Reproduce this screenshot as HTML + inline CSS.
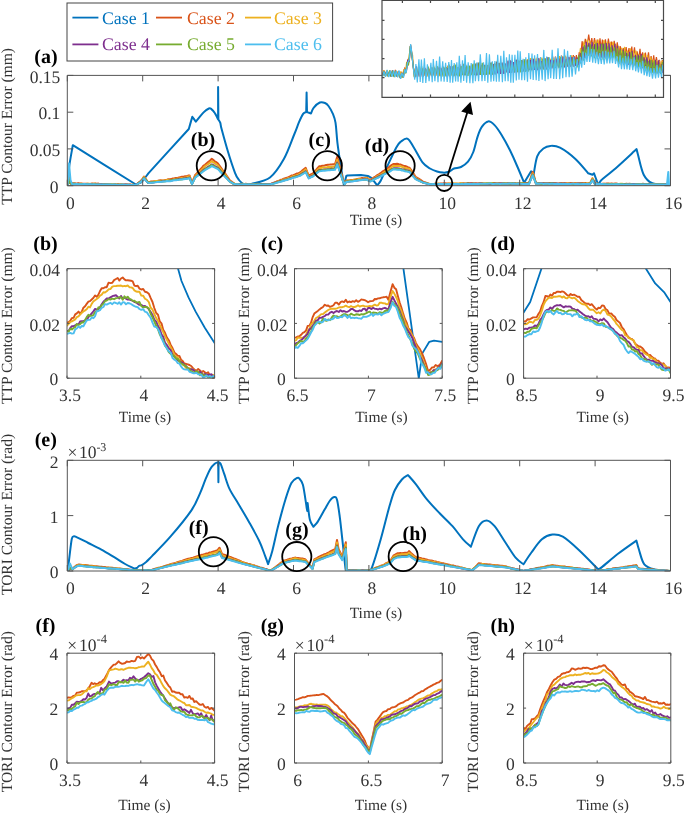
<!DOCTYPE html>
<html><head><meta charset="utf-8"><style>
html,body{margin:0;padding:0;background:#fff;}
svg{display:block;will-change:transform;}
text{font-family:"Liberation Serif",serif;text-rendering:geometricPrecision;}
</style></head><body>
<svg width="685" height="813" viewBox="0 0 685 813">
<defs><clipPath id="ca"><rect x="67.3" y="75.4" width="603.2" height="110.3"/></clipPath>
<clipPath id="cb"><rect x="67.0" y="268.7" width="147.6" height="109.5"/></clipPath>
<clipPath id="cc"><rect x="294.5" y="268.7" width="147.7" height="109.5"/></clipPath>
<clipPath id="cd"><rect x="523.6" y="268.7" width="146.9" height="109.5"/></clipPath>
<clipPath id="ce"><rect x="67.3" y="460.3" width="603.2" height="110.7"/></clipPath>
<clipPath id="cf"><rect x="67.0" y="653.2" width="147.6" height="109.8"/></clipPath>
<clipPath id="cg"><rect x="294.5" y="653.2" width="147.7" height="109.8"/></clipPath>
<clipPath id="ch"><rect x="523.6" y="653.2" width="147.2" height="109.8"/></clipPath>
<clipPath id="cin"><rect x="382" y="0.5" width="281.5" height="96.5"/></clipPath></defs>
<rect width="685" height="813" fill="#fff"/>
<path d="M67.8 185.0 C68.0 182.2 68.2 174.6 69.0 168.0 C69.8 161.4 72.2 149.0 72.8 145.2 C83.3 151.8 125.4 177.9 135.9 184.5 C136.9 184.1 140.8 182.4 141.8 182.0 C143.0 180.5 147.6 174.3 148.8 172.8 C155.5 165.5 182.1 136.3 188.8 129.0 C189.4 127.0 191.7 118.8 192.3 116.8 C192.9 117.6 195.2 120.8 195.8 121.6 C197.1 120.1 201.4 114.6 203.6 112.4 C205.8 110.2 207.7 109.1 208.9 108.5 C210.2 107.9 210.1 108.1 211.1 108.9 C212.1 109.7 213.8 111.5 215.0 113.3 C216.2 115.0 217.6 118.4 218.1 119.4 C218.1 114.0 218.1 92.4 218.1 87.0 C218.2 92.4 218.3 114.2 218.4 119.6 C218.7 120.1 219.8 121.3 220.3 122.9 C220.8 124.5 220.3 124.2 221.6 129.0 C222.9 133.8 225.8 144.5 228.0 151.8 C230.2 159.1 233.2 168.1 235.0 172.8 C236.8 177.5 237.6 178.1 239.0 180.0 C240.4 181.9 242.5 183.3 243.2 184.0 C244.6 184.0 250.0 184.0 251.4 184.0 C254.5 182.9 264.6 181.7 270.0 177.5 C275.4 173.3 279.9 166.1 284.0 158.8 C288.1 151.6 291.9 140.0 294.4 134.0 C296.9 128.0 297.4 126.0 298.8 122.7 C300.2 119.4 301.9 115.7 303.1 113.9 C304.3 112.1 305.7 112.4 306.2 112.1 C306.3 108.8 306.5 95.7 306.6 92.4 C306.7 95.7 306.9 108.8 307.0 112.1 C307.7 112.3 310.3 113.3 311.0 113.5 C311.4 112.5 312.1 109.6 313.6 107.8 C315.1 106.0 317.9 103.3 319.8 102.5 C321.7 101.7 323.6 102.4 325.0 103.0 C326.4 103.6 327.2 104.2 328.5 106.0 C329.8 107.8 331.7 111.1 332.9 113.9 C334.1 116.7 334.7 117.8 335.5 122.7 C336.3 127.6 336.7 136.7 337.5 143.4 C338.3 150.2 339.3 156.2 340.4 163.2 C341.5 170.2 343.3 181.7 343.9 185.4 C344.3 183.8 345.9 177.6 346.3 176.0 C346.5 175.9 347.2 175.6 347.4 175.5 C349.6 175.4 358.6 175.0 360.9 174.9 C362.1 175.1 366.7 175.8 367.9 176.0 C368.5 176.3 370.8 177.5 371.4 177.8 C372.4 179.1 376.2 184.1 377.2 185.4 C377.8 184.6 379.3 183.4 380.7 180.7 C382.1 178.0 383.2 174.9 385.8 169.4 C388.4 163.9 393.8 152.2 396.3 147.5 C398.8 142.8 399.1 142.9 401.0 141.5 C402.9 140.1 405.6 137.8 407.7 138.8 C409.8 139.8 411.3 143.6 413.8 147.5 C416.3 151.4 419.8 158.9 422.5 162.4 C425.2 165.9 427.6 167.0 430.0 168.5 C432.4 170.0 434.8 170.8 437.0 171.5 C439.2 172.2 441.0 172.5 443.0 172.6 C445.0 172.7 447.2 172.5 449.0 171.8 C450.8 171.1 452.0 169.3 454.0 168.5 C456.0 167.7 458.7 168.1 461.0 167.0 C463.3 165.9 465.9 164.2 468.0 161.7 C470.1 159.2 471.7 156.2 473.3 152.0 C474.9 147.8 476.2 140.5 477.7 136.3 C479.1 132.1 480.2 129.1 482.0 126.6 C483.8 124.1 486.1 121.7 488.2 121.4 C490.2 121.1 492.1 122.7 494.3 124.9 C496.5 127.1 498.7 130.3 501.3 134.5 C503.9 138.7 507.4 145.1 510.0 150.3 C512.6 155.6 514.8 160.6 517.1 166.0 C519.5 171.4 522.9 179.9 524.1 182.7 C525.3 180.8 529.9 173.2 531.1 171.3 C531.5 171.8 533.3 173.6 533.7 174.0 C534.3 171.1 535.6 160.7 537.2 156.4 C538.8 152.2 541.2 150.2 543.4 148.5 C545.6 146.8 547.6 146.0 550.4 145.9 C553.2 145.8 555.8 145.5 560.0 147.7 C564.2 149.9 570.7 154.7 575.4 159.0 C580.1 163.3 586.1 170.9 588.2 173.3 C588.9 173.5 591.8 174.5 592.5 174.7 C592.8 174.5 593.8 173.5 594.0 173.3 C594.7 175.2 597.5 182.8 598.2 184.7 C598.7 184.0 600.5 181.1 601.0 180.4 C603.8 178.0 612.1 171.4 618.0 166.2 C623.9 161.0 633.5 151.9 636.6 149.1 C636.8 150.1 636.8 150.5 638.0 154.8 C639.2 159.1 641.3 170.0 643.7 174.7 C646.1 179.4 648.2 181.4 652.3 183.2 C656.3 185.0 665.4 185.1 668.0 185.5" fill="none" stroke="#0072BD" stroke-width="2.00" stroke-linejoin="round" stroke-linecap="round" clip-path="url(#ca)"/>
<path d="M67.6 185.0 L68.5 176.0 L70.0 182.0 L72.0 184.0 L72.0 183.4 L73.6 183.4 L75.1 183.5 L76.7 183.7 L78.2 183.3 L79.8 183.6 L81.3 183.6 L82.9 183.8 L84.4 183.8 L86.0 183.7 L87.6 183.7 L89.1 183.9 L90.7 183.8 L92.2 183.5 L93.8 183.8 L95.3 183.6 L96.9 183.7 L98.4 183.6 L100.0 184.1 L101.5 184.1 L103.0 184.5 L104.5 184.1 L106.0 184.4 L107.5 184.4 L109.0 184.6 L110.5 184.4 L112.0 184.7 L113.5 184.5 L115.0 184.1 L116.5 184.4 L118.0 184.3 L119.5 184.5 L121.0 184.4 L122.5 184.6 L124.0 184.5 L125.5 184.4 L127.0 184.4 L128.5 184.7 L130.0 184.5 L131.5 184.8 L133.0 184.8 L134.5 184.9 L136.0 185.1 L137.7 183.5 L139.3 182.0 L141.0 180.7 L142.5 178.8 L144.0 176.5 L146.0 179.4 L148.0 182.3 L149.6 181.9 L151.1 181.6 L152.7 181.5 L154.3 181.2 L155.9 181.1 L157.4 180.9 L159.0 180.4 L160.6 180.3 L162.1 180.4 L163.7 180.4 L165.3 180.0 L166.9 179.7 L168.4 179.2 L170.0 179.3 L171.5 178.9 L173.0 178.5 L174.5 178.3 L176.0 177.9 L177.5 177.9 L179.0 177.5 L180.6 177.1 L182.1 176.8 L183.6 176.7 L185.1 176.3 L186.6 176.3 L188.1 175.6 L189.6 175.5 L192.0 183.1 L193.5 179.2 L195.0 175.3 L196.7 173.5 L198.3 171.6 L200.0 169.8 L201.7 168.0 L203.3 165.9 L205.0 164.7 L206.7 163.2 L208.4 161.8 L210.1 160.5 L211.8 158.8 L213.4 160.1 L214.9 161.5 L216.4 162.2 L218.0 163.6 L219.8 166.1 L221.6 168.6 L223.4 171.2 L225.1 173.4 L226.7 175.8 L228.3 178.1 L230.0 180.6 L231.7 181.7 L233.3 182.8 L235.0 184.3 L236.5 184.0 L238.0 184.3 L239.6 184.3 L241.1 184.5 L242.6 184.4 L244.1 184.2 L245.7 183.8 L247.2 184.0 L248.7 184.3 L250.2 184.3 L251.7 184.1 L253.3 184.3 L254.8 184.5 L256.3 184.1 L257.8 183.8 L259.3 183.9 L260.9 184.2 L262.4 184.0 L263.9 184.1 L265.4 184.1 L267.0 183.9 L268.5 184.2 L270.0 184.3 L271.5 183.7 L273.1 182.9 L274.6 182.4 L276.2 181.9 L277.7 180.9 L279.2 180.7 L280.8 179.8 L282.3 179.4 L283.8 178.8 L285.4 178.3 L286.9 177.8 L288.5 177.1 L290.0 176.5 L291.7 175.4 L293.3 175.2 L295.0 174.5 L296.7 173.6 L298.3 173.4 L300.0 172.5 L301.9 170.9 L303.8 169.4 L305.7 167.9 L307.2 171.8 L308.8 175.7 L310.9 174.3 L313.0 173.3 L314.6 171.7 L316.1 169.9 L317.7 167.9 L319.3 166.2 L321.1 166.0 L322.8 165.7 L324.6 165.5 L326.3 164.9 L328.0 164.7 L329.8 164.6 L331.5 164.4 L333.3 164.3 L335.0 164.2 L337.2 156.7 L339.4 165.0 L341.1 172.3 L342.9 179.8 L344.7 183.6 L346.4 180.6 L348.0 180.4 L349.5 180.3 L351.1 180.0 L352.6 179.9 L354.2 179.7 L355.8 179.5 L357.3 179.0 L358.9 178.7 L360.5 178.6 L362.0 178.0 L363.6 178.3 L365.1 177.9 L366.7 177.7 L368.4 178.8 L370.2 179.8 L371.9 178.9 L373.6 177.7 L375.4 176.5 L377.1 175.2 L378.8 174.4 L380.6 173.2 L382.3 171.7 L384.1 170.7 L385.8 169.6 L387.4 168.6 L388.9 167.2 L390.5 165.9 L392.0 164.8 L393.6 164.0 L395.4 163.9 L397.1 163.7 L398.9 164.2 L400.4 164.5 L401.9 165.1 L403.4 165.7 L404.9 166.0 L406.4 166.5 L407.9 167.1 L409.4 167.6 L410.9 169.5 L412.4 171.9 L414.0 174.2 L415.5 176.8 L417.2 177.8 L419.0 178.9 L420.8 180.1 L422.5 181.4 L424.0 181.9 L425.5 182.4 L427.0 183.2 L428.5 183.6 L430.0 184.0 L431.5 184.0 L433.0 184.1 L434.6 183.7 L436.1 183.7 L437.6 183.7 L439.1 183.8 L440.7 183.5 L442.2 183.6 L443.7 183.2 L445.2 183.3 L446.7 183.6 L448.3 183.6 L449.8 183.6 L451.3 183.5 L452.8 183.5 L454.3 183.7 L455.9 183.8 L457.4 183.8 L458.9 183.8 L460.4 183.5 L462.0 183.5 L463.5 183.3 L465.0 183.5 L466.5 183.7 L468.0 183.3 L469.6 183.3 L471.1 183.3 L472.6 183.2 L474.1 183.3 L475.7 183.2 L477.2 183.5 L478.7 183.4 L480.2 183.2 L481.7 183.0 L483.3 183.3 L484.8 183.4 L486.3 183.5 L487.8 183.5 L489.3 183.7 L490.9 183.2 L492.4 183.3 L493.9 183.0 L495.4 183.1 L497.0 183.2 L498.5 183.2 L500.0 183.4 L501.5 183.3 L503.1 183.3 L504.6 183.2 L506.1 183.3 L507.6 183.5 L509.2 183.6 L510.7 183.5 L512.2 183.2 L513.7 183.4 L515.3 183.1 L516.8 183.4 L518.3 183.1 L519.8 183.3 L521.4 183.1 L522.9 183.0 L524.4 183.3 L525.9 183.2 L527.5 183.3 L529.0 183.0 L530.9 177.6 L532.7 171.9 L534.4 177.4 L536.0 183.2 L537.5 183.0 L539.0 183.3 L540.5 183.1 L542.0 183.0 L543.5 183.0 L545.0 183.1 L546.5 183.2 L548.0 183.3 L549.5 183.1 L551.0 183.1 L552.5 183.2 L554.0 183.2 L555.5 183.2 L557.0 183.5 L558.5 183.7 L560.0 183.4 L561.5 183.3 L563.0 183.3 L564.5 183.3 L566.0 183.2 L567.5 183.2 L569.0 183.1 L570.5 183.1 L572.0 183.0 L573.5 183.4 L575.0 183.0 L576.5 183.4 L578.0 183.6 L579.5 183.5 L581.0 183.3 L582.5 183.1 L584.0 183.2 L585.5 183.0 L587.0 183.4 L588.5 183.3 L590.0 183.5 L592.5 178.3 L595.0 183.8 L596.5 184.1 L598.0 183.8 L599.5 184.0 L601.0 183.9 L602.5 183.7 L604.0 183.8 L605.5 183.8 L607.0 183.5 L608.5 183.5 L610.0 183.9 L611.5 183.4 L613.0 183.7 L614.5 183.6 L616.0 183.4 L617.5 183.8 L619.0 184.0 L620.5 183.9 L622.0 184.2 L623.5 183.9 L625.0 183.9 L626.5 183.8 L628.0 184.0 L629.5 183.8 L631.0 183.9 L632.5 183.9 L634.0 183.9 L635.5 184.1 L637.0 184.2 L638.5 184.1 L640.0 184.0 L641.5 184.2 L643.0 183.7 L644.5 184.1 L646.0 184.2 L647.5 183.9 L649.0 183.8 L650.5 184.0 L652.0 184.0 L653.5 184.0 L655.0 184.2 L656.5 184.0 L658.0 184.1 L659.5 184.1 L661.0 184.3 L662.5 184.1 L664.0 184.1 L665.5 184.0 L667.0 184.4" fill="none" stroke="#D95319" stroke-width="2.00" stroke-linejoin="round" stroke-linecap="round" clip-path="url(#ca)"/>
<path d="M67.6 185.0 L68.5 178.0 L70.0 183.0 L72.0 184.0 L72.0 184.0 L73.6 183.4 L75.1 183.9 L76.7 183.8 L78.2 183.9 L79.8 183.8 L81.3 183.8 L82.9 184.2 L84.4 184.2 L86.0 184.0 L87.6 183.7 L89.1 183.8 L90.7 184.1 L92.2 184.0 L93.8 183.8 L95.3 183.8 L96.9 184.2 L98.4 184.1 L100.0 184.5 L101.5 184.6 L103.0 184.6 L104.5 184.6 L106.0 184.5 L107.5 184.7 L109.0 184.5 L110.5 184.6 L112.0 184.6 L113.5 184.6 L115.0 184.6 L116.5 184.8 L118.0 184.7 L119.5 184.5 L121.0 184.6 L122.5 184.8 L124.0 184.9 L125.5 185.1 L127.0 184.9 L128.5 185.0 L130.0 184.7 L131.5 185.0 L133.0 184.7 L134.5 185.1 L136.0 185.0 L137.7 183.8 L139.3 182.6 L141.0 181.3 L142.5 179.0 L144.0 177.0 L146.0 179.8 L148.0 182.4 L149.6 181.9 L151.1 181.8 L152.7 181.7 L154.3 181.4 L155.9 181.0 L157.4 181.1 L159.0 181.0 L160.6 180.7 L162.1 180.8 L163.7 180.5 L165.3 180.5 L166.9 180.1 L168.4 179.8 L170.0 180.0 L171.5 179.9 L173.0 179.8 L174.5 179.2 L176.0 179.0 L177.5 178.6 L179.0 178.4 L180.6 178.3 L182.1 177.9 L183.6 177.9 L185.1 177.6 L186.6 177.1 L188.1 176.5 L189.6 176.2 L192.0 183.3 L193.5 179.9 L195.0 176.5 L196.7 174.6 L198.3 172.9 L200.0 171.5 L201.7 169.8 L203.3 168.2 L205.0 166.2 L206.7 165.0 L208.4 164.0 L210.1 162.6 L211.8 161.3 L213.4 162.4 L214.9 163.4 L216.4 164.3 L218.0 165.5 L219.8 167.8 L221.6 170.1 L223.4 172.6 L225.1 174.5 L226.7 176.9 L228.3 179.2 L230.0 181.2 L231.7 182.4 L233.3 183.2 L235.0 184.0 L236.5 184.3 L238.0 184.0 L239.6 184.1 L241.1 184.0 L242.6 183.8 L244.1 184.1 L245.7 184.0 L247.2 183.9 L248.7 184.0 L250.2 184.2 L251.7 183.9 L253.3 184.1 L254.8 184.3 L256.3 184.1 L257.8 184.4 L259.3 184.4 L260.9 184.2 L262.4 184.3 L263.9 184.3 L265.4 184.6 L267.0 184.7 L268.5 184.3 L270.0 184.2 L271.5 183.8 L273.1 183.4 L274.6 182.8 L276.2 182.4 L277.7 181.5 L279.2 180.7 L280.8 180.8 L282.3 180.1 L283.8 179.5 L285.4 179.2 L286.9 178.6 L288.5 177.9 L290.0 177.7 L291.7 176.8 L293.3 176.2 L295.0 175.8 L296.7 175.1 L298.3 174.7 L300.0 173.7 L301.9 172.2 L303.8 171.0 L305.7 169.3 L307.2 173.0 L308.8 177.0 L310.9 175.8 L313.0 174.7 L314.6 173.2 L316.1 171.7 L317.7 169.7 L319.3 168.1 L321.1 168.0 L322.8 167.5 L324.6 167.5 L326.3 167.4 L328.0 167.0 L329.8 166.9 L331.5 167.0 L333.3 166.5 L335.0 166.3 L337.2 159.9 L339.4 167.2 L341.1 173.4 L342.9 179.7 L344.7 183.6 L346.4 181.1 L348.0 180.4 L349.5 180.6 L351.1 180.5 L352.6 180.2 L354.2 179.8 L355.8 179.5 L357.3 179.4 L358.9 179.1 L360.5 179.0 L362.0 179.1 L363.6 178.8 L365.1 178.4 L366.7 178.1 L368.4 179.2 L370.2 180.6 L371.9 179.6 L373.6 178.7 L375.4 177.5 L377.1 176.4 L378.8 175.5 L380.6 174.6 L382.3 173.6 L384.1 172.4 L385.8 171.3 L387.4 170.3 L388.9 169.3 L390.5 168.2 L392.0 166.8 L393.6 165.7 L395.4 166.0 L397.1 166.0 L398.9 166.1 L400.4 166.3 L401.9 166.8 L403.4 167.3 L404.9 168.1 L406.4 168.3 L407.9 168.8 L409.4 168.8 L410.9 171.0 L412.4 173.0 L414.0 175.3 L415.5 177.7 L417.2 178.8 L419.0 179.8 L420.8 180.9 L422.5 182.1 L424.0 182.5 L425.5 183.1 L427.0 183.6 L428.5 183.7 L430.0 184.1 L431.5 183.9 L433.0 184.1 L434.6 184.2 L436.1 184.0 L437.6 183.6 L439.1 183.7 L440.7 184.1 L442.2 184.0 L443.7 183.9 L445.2 184.0 L446.7 183.9 L448.3 183.6 L449.8 183.8 L451.3 183.6 L452.8 183.6 L454.3 183.5 L455.9 183.4 L457.4 183.6 L458.9 183.7 L460.4 183.3 L462.0 183.7 L463.5 183.7 L465.0 183.9 L466.5 183.7 L468.0 183.7 L469.6 183.9 L471.1 183.8 L472.6 183.7 L474.1 183.7 L475.7 183.8 L477.2 183.9 L478.7 183.7 L480.2 183.5 L481.7 183.6 L483.3 183.4 L484.8 183.6 L486.3 183.2 L487.8 183.3 L489.3 183.2 L490.9 183.1 L492.4 183.2 L493.9 183.7 L495.4 183.5 L497.0 183.2 L498.5 183.2 L500.0 183.2 L501.5 183.4 L503.1 183.4 L504.6 183.6 L506.1 183.3 L507.6 183.0 L509.2 183.0 L510.7 182.9 L512.2 183.1 L513.7 183.5 L515.3 183.5 L516.8 183.5 L518.3 183.5 L519.8 183.3 L521.4 183.3 L522.9 183.3 L524.4 183.4 L525.9 183.5 L527.5 183.4 L529.0 183.7 L530.9 178.4 L532.7 173.4 L534.4 178.2 L536.0 183.0 L537.5 183.3 L539.0 183.5 L540.5 183.5 L542.0 183.4 L543.5 183.6 L545.0 183.3 L546.5 183.2 L548.0 183.5 L549.5 183.5 L551.0 183.7 L552.5 183.4 L554.0 183.5 L555.5 183.4 L557.0 183.7 L558.5 183.5 L560.0 183.6 L561.5 183.5 L563.0 183.6 L564.5 183.7 L566.0 183.6 L567.5 183.5 L569.0 183.6 L570.5 183.8 L572.0 183.8 L573.5 183.6 L575.0 183.5 L576.5 183.5 L578.0 183.4 L579.5 183.4 L581.0 183.4 L582.5 183.5 L584.0 183.7 L585.5 183.9 L587.0 183.6 L588.5 183.7 L590.0 183.6 L592.5 178.5 L595.0 183.6 L596.5 183.8 L598.0 183.8 L599.5 183.9 L601.0 183.9 L602.5 183.9 L604.0 183.7 L605.5 184.1 L607.0 184.0 L608.5 184.3 L610.0 183.8 L611.5 184.3 L613.0 184.0 L614.5 184.2 L616.0 184.2 L617.5 183.9 L619.0 183.9 L620.5 183.8 L622.0 183.8 L623.5 184.1 L625.0 184.1 L626.5 183.9 L628.0 184.2 L629.5 184.0 L631.0 183.9 L632.5 184.2 L634.0 184.0 L635.5 184.2 L637.0 184.3 L638.5 184.4 L640.0 184.0 L641.5 184.0 L643.0 184.0 L644.5 184.2 L646.0 184.4 L647.5 184.1 L649.0 184.0 L650.5 183.9 L652.0 184.1 L653.5 184.3 L655.0 184.1 L656.5 184.4 L658.0 184.3 L659.5 184.3 L661.0 184.4 L662.5 184.5 L664.0 184.5 L665.5 184.6 L667.0 184.3" fill="none" stroke="#EDB120" stroke-width="2.00" stroke-linejoin="round" stroke-linecap="round" clip-path="url(#ca)"/>
<path d="M67.6 185.0 L68.5 180.0 L70.0 183.0 L72.0 184.0 L72.0 183.8 L73.6 183.8 L75.1 183.8 L76.7 183.9 L78.2 183.7 L79.8 184.1 L81.3 184.2 L82.9 184.1 L84.4 184.3 L86.0 184.3 L87.6 184.2 L89.1 184.4 L90.7 184.1 L92.2 184.4 L93.8 184.6 L95.3 184.6 L96.9 184.5 L98.4 184.5 L100.0 184.4 L101.5 184.3 L103.0 184.6 L104.5 184.5 L106.0 184.5 L107.5 184.5 L109.0 184.7 L110.5 184.8 L112.0 184.9 L113.5 184.7 L115.0 185.0 L116.5 185.0 L118.0 184.8 L119.5 185.0 L121.0 184.7 L122.5 185.1 L124.0 184.8 L125.5 184.6 L127.0 184.8 L128.5 184.8 L130.0 184.8 L131.5 185.0 L133.0 185.2 L134.5 185.2 L136.0 184.8 L137.7 183.8 L139.3 182.7 L141.0 181.6 L142.5 179.8 L144.0 178.0 L146.0 180.4 L148.0 182.8 L149.6 182.7 L151.1 182.6 L152.7 182.5 L154.3 182.3 L155.9 181.9 L157.4 182.0 L159.0 181.7 L160.6 181.6 L162.1 181.3 L163.7 181.1 L165.3 181.1 L166.9 181.0 L168.4 181.0 L170.0 180.4 L171.5 180.5 L173.0 180.1 L174.5 179.9 L176.0 179.6 L177.5 179.4 L179.0 179.1 L180.6 178.9 L182.1 178.9 L183.6 178.5 L185.1 178.4 L186.6 178.1 L188.1 177.9 L189.6 177.6 L192.0 183.9 L193.5 180.7 L195.0 177.5 L196.7 176.1 L198.3 174.4 L200.0 173.0 L201.7 171.8 L203.3 170.1 L205.0 168.9 L206.7 167.8 L208.4 166.5 L210.1 165.5 L211.8 164.4 L213.4 165.2 L214.9 166.1 L216.4 166.9 L218.0 167.9 L219.8 170.0 L221.6 172.1 L223.4 174.4 L225.1 176.2 L226.7 177.9 L228.3 179.6 L230.0 181.6 L231.7 182.6 L233.3 183.8 L235.0 184.8 L236.5 184.7 L238.0 184.5 L239.6 184.2 L241.1 184.4 L242.6 184.5 L244.1 184.4 L245.7 184.4 L247.2 184.4 L248.7 184.2 L250.2 184.5 L251.7 184.3 L253.3 184.6 L254.8 184.4 L256.3 184.6 L257.8 184.3 L259.3 184.3 L260.9 184.3 L262.4 184.3 L263.9 184.2 L265.4 184.1 L267.0 184.5 L268.5 184.3 L270.0 184.2 L271.5 183.8 L273.1 183.4 L274.6 182.8 L276.2 182.4 L277.7 182.0 L279.2 181.4 L280.8 181.1 L282.3 180.7 L283.8 180.4 L285.4 179.8 L286.9 179.5 L288.5 179.0 L290.0 178.4 L291.7 177.9 L293.3 177.1 L295.0 176.7 L296.7 176.2 L298.3 175.9 L300.0 175.0 L301.9 173.7 L303.8 172.6 L305.7 171.4 L307.2 174.7 L308.8 177.8 L310.9 176.5 L313.0 175.6 L314.6 174.1 L316.1 172.9 L317.7 171.4 L319.3 169.9 L321.1 169.9 L322.8 169.8 L324.6 169.5 L326.3 169.5 L328.0 169.2 L329.8 169.3 L331.5 168.7 L333.3 168.8 L335.0 168.3 L337.2 162.6 L339.4 169.3 L341.1 174.9 L342.9 180.5 L344.7 183.7 L346.4 181.6 L348.0 181.4 L349.5 181.4 L351.1 181.2 L352.6 181.0 L354.2 180.7 L355.8 180.5 L357.3 180.4 L358.9 180.2 L360.5 179.7 L362.0 179.6 L363.6 179.3 L365.1 179.4 L366.7 179.1 L368.4 180.2 L370.2 181.1 L371.9 180.0 L373.6 179.2 L375.4 178.2 L377.1 177.4 L378.8 176.5 L380.6 175.6 L382.3 174.7 L384.1 173.9 L385.8 172.9 L387.4 172.0 L388.9 171.2 L390.5 170.0 L392.0 169.1 L393.6 168.3 L395.4 168.3 L397.1 168.3 L398.9 168.5 L400.4 169.0 L401.9 169.3 L403.4 169.4 L404.9 169.8 L406.4 170.2 L407.9 170.4 L409.4 170.9 L410.9 172.5 L412.4 174.5 L414.0 176.4 L415.5 178.5 L417.2 179.3 L419.0 180.3 L420.8 181.2 L422.5 182.2 L424.0 182.8 L425.5 183.3 L427.0 183.5 L428.5 184.0 L430.0 184.2 L431.5 184.4 L433.0 184.2 L434.6 184.2 L436.1 184.3 L437.6 184.1 L439.1 184.3 L440.7 184.2 L442.2 184.0 L443.7 184.2 L445.2 184.2 L446.7 184.1 L448.3 184.1 L449.8 183.9 L451.3 183.9 L452.8 184.0 L454.3 184.0 L455.9 183.9 L457.4 184.0 L458.9 184.0 L460.4 184.1 L462.0 183.9 L463.5 184.0 L465.0 184.0 L466.5 183.7 L468.0 183.5 L469.6 183.9 L471.1 183.6 L472.6 183.8 L474.1 184.0 L475.7 183.8 L477.2 183.7 L478.7 183.8 L480.2 183.6 L481.7 183.7 L483.3 184.0 L484.8 184.0 L486.3 183.9 L487.8 184.0 L489.3 183.8 L490.9 183.9 L492.4 183.9 L493.9 183.7 L495.4 183.7 L497.0 183.7 L498.5 183.6 L500.0 183.4 L501.5 183.5 L503.1 183.8 L504.6 183.7 L506.1 183.9 L507.6 183.6 L509.2 183.4 L510.7 183.7 L512.2 183.7 L513.7 183.6 L515.3 183.8 L516.8 183.9 L518.3 183.8 L519.8 184.0 L521.4 183.9 L522.9 183.9 L524.4 183.5 L525.9 183.4 L527.5 183.4 L529.0 183.6 L530.9 179.1 L532.7 174.6 L534.4 179.2 L536.0 183.7 L537.5 183.6 L539.0 183.6 L540.5 183.6 L542.0 183.4 L543.5 183.6 L545.0 183.6 L546.5 183.5 L548.0 183.5 L549.5 183.4 L551.0 183.4 L552.5 183.3 L554.0 183.5 L555.5 183.5 L557.0 183.6 L558.5 183.7 L560.0 183.4 L561.5 183.5 L563.0 183.7 L564.5 183.5 L566.0 183.7 L567.5 183.9 L569.0 183.9 L570.5 183.8 L572.0 184.0 L573.5 183.7 L575.0 184.0 L576.5 183.8 L578.0 183.6 L579.5 183.5 L581.0 183.6 L582.5 183.7 L584.0 184.0 L585.5 184.2 L587.0 184.0 L588.5 184.0 L590.0 184.0 L592.5 179.7 L595.0 183.9 L596.5 184.0 L598.0 184.1 L599.5 184.3 L601.0 184.3 L602.5 184.4 L604.0 184.2 L605.5 184.3 L607.0 184.1 L608.5 184.3 L610.0 184.3 L611.5 184.2 L613.0 184.2 L614.5 184.3 L616.0 184.2 L617.5 184.3 L619.0 184.4 L620.5 184.4 L622.0 184.5 L623.5 184.3 L625.0 184.1 L626.5 184.3 L628.0 184.3 L629.5 184.2 L631.0 184.0 L632.5 184.1 L634.0 184.1 L635.5 184.3 L637.0 184.2 L638.5 184.3 L640.0 184.4 L641.5 184.3 L643.0 184.1 L644.5 184.3 L646.0 184.4 L647.5 184.3 L649.0 184.1 L650.5 184.2 L652.0 184.3 L653.5 184.6 L655.0 184.4 L656.5 184.3 L658.0 184.6 L659.5 184.6 L661.0 184.6 L662.5 184.5 L664.0 184.5 L665.5 184.4 L667.0 184.5" fill="none" stroke="#7E2F8E" stroke-width="2.00" stroke-linejoin="round" stroke-linecap="round" clip-path="url(#ca)"/>
<path d="M67.6 185.0 L68.5 179.0 L70.0 183.0 L72.0 184.0 L72.0 183.7 L73.6 183.8 L75.1 183.7 L76.7 184.1 L78.2 184.1 L79.8 184.1 L81.3 183.9 L82.9 184.1 L84.4 184.3 L86.0 184.2 L87.6 184.2 L89.1 184.4 L90.7 184.3 L92.2 184.5 L93.8 184.3 L95.3 184.3 L96.9 184.7 L98.4 184.5 L100.0 184.7 L101.5 184.8 L103.0 184.6 L104.5 184.6 L106.0 184.4 L107.5 184.5 L109.0 184.5 L110.5 184.5 L112.0 184.5 L113.5 184.7 L115.0 184.6 L116.5 184.7 L118.0 184.8 L119.5 184.7 L121.0 184.7 L122.5 184.6 L124.0 184.9 L125.5 184.7 L127.0 184.7 L128.5 184.7 L130.0 185.0 L131.5 185.1 L133.0 184.7 L134.5 185.1 L136.0 185.1 L137.7 184.1 L139.3 182.7 L141.0 181.7 L142.5 180.1 L144.0 178.0 L146.0 180.2 L148.0 182.8 L149.6 182.5 L151.1 182.7 L152.7 182.3 L154.3 182.0 L155.9 182.0 L157.4 181.8 L159.0 181.7 L160.6 181.4 L162.1 181.4 L163.7 181.5 L165.3 181.2 L166.9 180.9 L168.4 180.8 L170.0 180.8 L171.5 180.3 L173.0 180.1 L174.5 180.0 L176.0 179.5 L177.5 179.7 L179.0 179.6 L180.6 179.5 L182.1 179.3 L183.6 178.8 L185.1 178.7 L186.6 178.6 L188.1 178.2 L189.6 178.1 L192.0 184.1 L193.5 181.0 L195.0 177.8 L196.7 176.3 L198.3 175.2 L200.0 173.5 L201.7 172.2 L203.3 171.0 L205.0 169.2 L206.7 168.3 L208.4 167.4 L210.1 165.9 L211.8 165.0 L213.4 165.9 L214.9 166.9 L216.4 167.7 L218.0 168.4 L219.8 170.5 L221.6 172.7 L223.4 174.6 L225.1 176.1 L226.7 178.1 L228.3 180.1 L230.0 181.7 L231.7 182.8 L233.3 183.5 L235.0 184.4 L236.5 184.4 L238.0 184.5 L239.6 184.4 L241.1 184.5 L242.6 184.4 L244.1 184.6 L245.7 184.6 L247.2 184.4 L248.7 184.6 L250.2 184.6 L251.7 184.5 L253.3 184.4 L254.8 184.2 L256.3 184.3 L257.8 184.5 L259.3 184.3 L260.9 184.4 L262.4 184.5 L263.9 184.3 L265.4 184.4 L267.0 184.4 L268.5 184.6 L270.0 184.6 L271.5 184.1 L273.1 183.7 L274.6 183.1 L276.2 182.8 L277.7 182.1 L279.2 181.8 L280.8 181.3 L282.3 180.7 L283.8 180.4 L285.4 180.1 L286.9 179.6 L288.5 179.1 L290.0 178.8 L291.7 178.1 L293.3 177.4 L295.0 176.6 L296.7 176.5 L298.3 176.1 L300.0 175.4 L301.9 174.2 L303.8 173.1 L305.7 171.9 L307.2 174.8 L308.8 178.1 L310.9 177.2 L313.0 176.1 L314.6 174.6 L316.1 173.4 L317.7 171.8 L319.3 170.4 L321.1 170.5 L322.8 170.1 L324.6 170.0 L326.3 169.7 L328.0 169.5 L329.8 169.5 L331.5 169.4 L333.3 169.1 L335.0 169.0 L337.2 163.5 L339.4 169.8 L341.1 175.1 L342.9 180.7 L344.7 184.0 L346.4 181.5 L348.0 181.5 L349.5 181.2 L351.1 181.1 L352.6 181.0 L354.2 180.8 L355.8 180.4 L357.3 180.2 L358.9 180.1 L360.5 179.9 L362.0 179.9 L363.6 179.8 L365.1 179.7 L366.7 179.5 L368.4 180.5 L370.2 181.3 L371.9 180.6 L373.6 179.4 L375.4 178.7 L377.1 177.8 L378.8 177.0 L380.6 176.0 L382.3 175.0 L384.1 174.0 L385.8 172.8 L387.4 172.3 L388.9 171.2 L390.5 170.4 L392.0 169.4 L393.6 168.7 L395.4 169.0 L397.1 169.0 L398.9 169.2 L400.4 169.3 L401.9 169.7 L403.4 170.2 L404.9 170.3 L406.4 170.7 L407.9 171.2 L409.4 171.5 L410.9 173.2 L412.4 175.3 L414.0 177.2 L415.5 178.9 L417.2 179.7 L419.0 180.7 L420.8 181.5 L422.5 182.4 L424.0 182.7 L425.5 182.9 L427.0 183.6 L428.5 183.8 L430.0 184.6 L431.5 184.2 L433.0 184.5 L434.6 184.2 L436.1 184.2 L437.6 184.2 L439.1 184.3 L440.7 184.3 L442.2 184.1 L443.7 184.0 L445.2 184.2 L446.7 184.3 L448.3 184.1 L449.8 184.2 L451.3 184.0 L452.8 184.0 L454.3 184.0 L455.9 184.1 L457.4 184.2 L458.9 184.1 L460.4 183.9 L462.0 183.7 L463.5 183.9 L465.0 183.8 L466.5 183.8 L468.0 183.5 L469.6 183.8 L471.1 183.9 L472.6 183.7 L474.1 183.8 L475.7 183.9 L477.2 184.0 L478.7 183.8 L480.2 183.7 L481.7 183.9 L483.3 183.8 L484.8 183.7 L486.3 183.6 L487.8 183.4 L489.3 183.4 L490.9 183.6 L492.4 183.6 L493.9 183.8 L495.4 183.8 L497.0 183.9 L498.5 183.8 L500.0 184.1 L501.5 184.0 L503.1 183.6 L504.6 183.6 L506.1 183.7 L507.6 183.7 L509.2 183.8 L510.7 183.5 L512.2 183.5 L513.7 183.5 L515.3 183.7 L516.8 183.7 L518.3 183.7 L519.8 183.9 L521.4 183.5 L522.9 183.6 L524.4 183.8 L525.9 183.6 L527.5 183.7 L529.0 183.5 L530.9 179.2 L532.7 174.9 L534.4 179.0 L536.0 183.8 L537.5 183.6 L539.0 183.6 L540.5 183.8 L542.0 184.0 L543.5 183.8 L545.0 183.8 L546.5 183.7 L548.0 183.9 L549.5 183.5 L551.0 183.5 L552.5 183.6 L554.0 183.7 L555.5 183.8 L557.0 183.9 L558.5 183.9 L560.0 183.8 L561.5 183.8 L563.0 183.9 L564.5 183.8 L566.0 184.0 L567.5 184.0 L569.0 184.1 L570.5 183.9 L572.0 183.9 L573.5 184.2 L575.0 184.0 L576.5 183.8 L578.0 184.0 L579.5 183.8 L581.0 183.8 L582.5 184.1 L584.0 183.8 L585.5 183.7 L587.0 184.0 L588.5 183.7 L590.0 183.7 L592.5 179.7 L595.0 184.4 L596.5 184.2 L598.0 184.5 L599.5 184.4 L601.0 184.1 L602.5 184.2 L604.0 184.1 L605.5 184.2 L607.0 184.2 L608.5 184.1 L610.0 184.1 L611.5 184.2 L613.0 184.0 L614.5 184.1 L616.0 184.0 L617.5 184.1 L619.0 184.0 L620.5 184.1 L622.0 184.1 L623.5 184.3 L625.0 184.2 L626.5 184.3 L628.0 184.4 L629.5 184.4 L631.0 184.3 L632.5 184.6 L634.0 184.7 L635.5 184.4 L637.0 184.3 L638.5 184.2 L640.0 184.2 L641.5 184.2 L643.0 184.3 L644.5 184.6 L646.0 184.5 L647.5 184.2 L649.0 184.4 L650.5 184.4 L652.0 184.3 L653.5 184.3 L655.0 184.4 L656.5 184.3 L658.0 184.5 L659.5 184.2 L661.0 184.4 L662.5 184.2 L664.0 184.6 L665.5 184.7 L667.0 184.8" fill="none" stroke="#77AC30" stroke-width="2.00" stroke-linejoin="round" stroke-linecap="round" clip-path="url(#ca)"/>
<path d="M67.6 185.0 L69.0 163.4 L70.5 180.0 L72.0 184.0 L72.0 184.1 L73.6 184.2 L75.1 184.3 L76.7 184.0 L78.2 184.2 L79.8 184.2 L81.3 184.2 L82.9 184.3 L84.4 184.1 L86.0 184.2 L87.6 184.2 L89.1 184.3 L90.7 184.3 L92.2 184.4 L93.8 184.2 L95.3 184.5 L96.9 184.5 L98.4 184.5 L100.0 184.5 L101.5 184.6 L103.0 184.6 L104.5 184.5 L106.0 184.4 L107.5 184.5 L109.0 184.5 L110.5 184.4 L112.0 184.7 L113.5 184.6 L115.0 184.6 L116.5 184.8 L118.0 185.0 L119.5 184.8 L121.0 184.7 L122.5 184.5 L124.0 184.7 L125.5 184.7 L127.0 185.0 L128.5 184.8 L130.0 185.0 L131.5 184.9 L133.0 185.0 L134.5 185.0 L136.0 184.8 L137.7 184.0 L139.3 183.0 L141.0 181.9 L142.5 180.2 L144.0 178.4 L146.0 180.9 L148.0 182.8 L149.6 182.9 L151.1 182.7 L152.7 182.7 L154.3 182.4 L155.9 182.3 L157.4 181.9 L159.0 181.9 L160.6 182.0 L162.1 181.8 L163.7 181.5 L165.3 181.4 L166.9 181.1 L168.4 181.3 L170.0 181.2 L171.5 180.9 L173.0 180.6 L174.5 180.3 L176.0 180.2 L177.5 180.1 L179.0 179.8 L180.6 179.4 L182.1 179.4 L183.6 179.2 L185.1 179.0 L186.6 178.9 L188.1 178.6 L189.6 178.2 L192.0 184.1 L193.5 181.1 L195.0 178.0 L196.7 176.6 L198.3 175.2 L200.0 174.0 L201.7 172.7 L203.3 171.3 L205.0 170.1 L206.7 169.1 L208.4 168.1 L210.1 167.3 L211.8 166.1 L213.4 166.8 L214.9 167.6 L216.4 168.4 L218.0 169.1 L219.8 171.2 L221.6 173.1 L223.4 175.2 L225.1 176.9 L226.7 178.4 L228.3 180.2 L230.0 181.9 L231.7 182.7 L233.3 183.6 L235.0 184.3 L236.5 184.3 L238.0 184.2 L239.6 184.4 L241.1 184.5 L242.6 184.5 L244.1 184.3 L245.7 184.3 L247.2 184.4 L248.7 184.2 L250.2 184.4 L251.7 184.4 L253.3 184.6 L254.8 184.6 L256.3 184.7 L257.8 184.5 L259.3 184.6 L260.9 184.8 L262.4 184.6 L263.9 184.6 L265.4 184.5 L267.0 184.5 L268.5 184.6 L270.0 184.5 L271.5 184.0 L273.1 183.7 L274.6 183.5 L276.2 182.9 L277.7 182.6 L279.2 182.0 L280.8 181.7 L282.3 181.2 L283.8 180.7 L285.4 180.2 L286.9 180.0 L288.5 179.3 L290.0 179.0 L291.7 178.4 L293.3 177.8 L295.0 177.5 L296.7 176.9 L298.3 176.4 L300.0 175.8 L301.9 174.7 L303.8 173.5 L305.7 172.3 L307.2 175.3 L308.8 178.5 L310.9 177.3 L313.0 176.5 L314.6 175.3 L316.1 173.8 L317.7 172.5 L319.3 171.2 L321.1 171.1 L322.8 170.8 L324.6 170.7 L326.3 170.6 L328.0 170.3 L329.8 170.2 L331.5 170.1 L333.3 169.9 L335.0 169.8 L337.2 164.4 L339.4 170.4 L341.1 175.7 L342.9 181.0 L344.7 184.1 L346.4 181.8 L348.0 181.9 L349.5 181.5 L351.1 181.5 L352.6 181.4 L354.2 181.1 L355.8 181.0 L357.3 180.6 L358.9 180.3 L360.5 180.2 L362.0 180.0 L363.6 179.7 L365.1 179.7 L366.7 179.6 L368.4 180.5 L370.2 181.5 L371.9 180.8 L373.6 179.8 L375.4 178.9 L377.1 178.2 L378.8 177.3 L380.6 176.4 L382.3 175.5 L384.1 174.5 L385.8 173.7 L387.4 172.9 L388.9 172.1 L390.5 171.1 L392.0 170.0 L393.6 169.3 L395.4 169.6 L397.1 169.7 L398.9 169.7 L400.4 169.8 L401.9 170.5 L403.4 170.6 L404.9 171.2 L406.4 171.4 L407.9 171.8 L409.4 172.0 L410.9 173.7 L412.4 175.4 L414.0 177.4 L415.5 179.1 L417.2 180.1 L419.0 180.9 L420.8 181.7 L422.5 182.4 L424.0 182.7 L425.5 183.3 L427.0 183.6 L428.5 184.1 L430.0 184.3 L431.5 184.2 L433.0 184.1 L434.6 184.2 L436.1 184.2 L437.6 184.2 L439.1 184.1 L440.7 184.1 L442.2 184.1 L443.7 184.1 L445.2 184.2 L446.7 184.2 L448.3 184.1 L449.8 184.1 L451.3 184.1 L452.8 183.9 L454.3 183.9 L455.9 184.1 L457.4 184.0 L458.9 184.0 L460.4 184.2 L462.0 183.9 L463.5 184.2 L465.0 184.1 L466.5 184.1 L468.0 184.1 L469.6 183.9 L471.1 184.1 L472.6 184.0 L474.1 183.8 L475.7 184.0 L477.2 184.0 L478.7 183.9 L480.2 183.8 L481.7 183.8 L483.3 183.7 L484.8 183.8 L486.3 183.7 L487.8 183.7 L489.3 183.6 L490.9 183.6 L492.4 183.9 L493.9 183.9 L495.4 183.8 L497.0 183.8 L498.5 183.8 L500.0 183.9 L501.5 183.8 L503.1 183.8 L504.6 183.7 L506.1 183.7 L507.6 183.8 L509.2 183.6 L510.7 183.6 L512.2 183.7 L513.7 183.6 L515.3 183.7 L516.8 183.7 L518.3 183.6 L519.8 183.7 L521.4 183.8 L522.9 184.0 L524.4 184.0 L525.9 183.9 L527.5 184.0 L529.0 184.0 L530.9 179.7 L532.7 175.4 L534.4 179.4 L536.0 183.7 L537.5 183.6 L539.0 183.8 L540.5 183.6 L542.0 183.6 L543.5 183.9 L545.0 183.8 L546.5 183.8 L548.0 183.7 L549.5 183.9 L551.0 183.8 L552.5 183.8 L554.0 183.9 L555.5 184.1 L557.0 183.8 L558.5 184.0 L560.0 183.9 L561.5 184.1 L563.0 184.1 L564.5 183.9 L566.0 184.0 L567.5 184.0 L569.0 183.8 L570.5 183.9 L572.0 183.8 L573.5 183.8 L575.0 183.9 L576.5 183.9 L578.0 183.9 L579.5 184.2 L581.0 184.2 L582.5 184.0 L584.0 184.1 L585.5 183.9 L587.0 183.9 L588.5 184.0 L590.0 184.1 L592.5 180.2 L595.0 184.4 L596.5 184.1 L598.0 184.3 L599.5 184.1 L601.0 184.0 L602.5 184.1 L604.0 184.2 L605.5 184.3 L607.0 184.4 L608.5 184.4 L610.0 184.4 L611.5 184.3 L613.0 184.4 L614.5 184.2 L616.0 184.2 L617.5 184.3 L619.0 184.3 L620.5 184.4 L622.0 184.4 L623.5 184.5 L625.0 184.7 L626.5 184.6 L628.0 184.6 L629.5 184.4 L631.0 184.5 L632.5 184.6 L634.0 184.4 L635.5 184.4 L637.0 184.6 L638.5 184.6 L640.0 184.4 L641.5 184.6 L643.0 184.5 L644.5 184.6 L646.0 184.5 L647.5 184.6 L649.0 184.5 L650.5 184.5 L652.0 184.4 L653.5 184.6 L655.0 184.6 L656.5 184.6 L658.0 184.6 L659.5 184.6 L661.0 184.6 L662.5 184.4 L664.0 184.6 L665.5 184.4 L667.0 184.6 L668.3 171.9 L669.0 184.6" fill="none" stroke="#4DBEEE" stroke-width="2.00" stroke-linejoin="round" stroke-linecap="round" clip-path="url(#ca)"/>
<path d="M176.0 262.0 L178.0 268.6 L181.5 281.0 L188.5 297.4 L195.5 311.4 L204.8 327.7 L214.6 343.0" fill="none" stroke="#0072BD" stroke-width="1.80" stroke-linejoin="round" stroke-linecap="round" clip-path="url(#cb)"/>
<path d="M67.0 322.6 L68.6 322.2 L70.3 320.7 L71.9 318.1 L73.6 317.8 L75.2 314.4 L76.8 313.4 L78.5 311.6 L80.1 313.6 L81.8 311.6 L83.4 307.7 L85.1 306.2 L86.7 303.9 L88.4 301.7 L90.0 301.2 L91.7 299.5 L93.3 298.0 L95.0 295.4 L96.7 296.7 L98.3 294.8 L100.0 291.1 L101.7 288.3 L103.4 288.2 L105.0 287.2 L106.7 287.2 L108.6 282.6 L110.4 283.1 L112.3 282.7 L114.1 280.1 L116.0 279.0 L117.7 278.0 L119.3 280.6 L121.0 278.5 L122.7 277.5 L124.4 279.4 L126.0 280.4 L127.7 280.3 L129.4 280.5 L131.0 280.7 L132.7 281.4 L134.4 285.6 L136.1 286.2 L137.7 285.7 L139.4 288.6 L141.3 289.5 L143.2 289.0 L145.0 291.8 L146.9 292.2 L148.8 293.7 L150.6 297.9 L152.5 302.0 L154.3 308.0 L156.2 313.0 L158.0 314.7 L159.8 321.5 L161.5 323.3 L163.2 329.7 L165.0 332.8 L166.9 337.5 L168.8 340.2 L170.7 344.9 L172.6 348.3 L174.5 352.6 L176.1 354.0 L177.8 355.9 L179.4 355.9 L181.1 359.8 L182.7 361.0 L184.4 363.7 L186.0 363.8 L187.8 364.3 L189.5 365.0 L191.2 366.0 L193.0 368.1 L194.8 369.9 L196.5 370.7 L198.2 369.0 L200.0 370.4 L201.6 372.2 L203.2 371.0 L204.9 372.3 L206.5 373.3 L208.1 372.3 L209.7 374.9 L211.4 375.9 L213.0 377.6 L214.6 376.9" fill="none" stroke="#D95319" stroke-width="1.90" stroke-linejoin="round" stroke-linecap="round" clip-path="url(#cb)"/>
<path d="M67.0 325.6 L68.6 323.9 L70.3 322.0 L71.9 321.3 L73.6 320.4 L75.2 319.4 L76.8 317.2 L78.5 316.3 L80.1 314.5 L81.8 312.8 L83.4 311.5 L85.1 310.4 L86.7 309.3 L88.4 306.7 L90.0 307.4 L91.7 303.9 L93.3 301.5 L95.0 300.2 L96.7 299.0 L98.3 297.8 L100.0 295.7 L101.7 294.6 L103.4 292.2 L105.0 292.5 L106.7 291.3 L108.6 289.3 L110.4 289.1 L112.3 286.6 L114.1 286.1 L116.0 286.0 L117.7 285.7 L119.3 285.7 L121.0 285.5 L122.7 286.4 L124.4 285.9 L126.0 286.2 L127.7 285.5 L129.4 287.2 L131.0 287.4 L132.7 288.0 L134.4 290.4 L136.1 291.5 L137.7 291.8 L139.4 291.7 L141.3 295.6 L143.2 295.7 L145.0 298.7 L146.9 299.8 L148.8 302.0 L150.6 307.5 L152.5 309.6 L154.3 314.0 L156.2 318.1 L158.0 320.8 L159.8 324.8 L161.5 328.6 L163.2 332.2 L165.0 336.4 L166.9 339.9 L168.8 343.6 L170.7 347.2 L172.6 350.6 L174.5 355.5 L176.1 356.6 L177.8 357.4 L179.4 360.2 L181.1 361.6 L182.7 364.6 L184.4 365.7 L186.0 367.8 L187.8 368.3 L189.5 368.1 L191.2 369.5 L193.0 369.3 L194.8 371.1 L196.5 372.6 L198.2 372.9 L200.0 372.1 L201.6 372.5 L203.2 374.5 L204.9 374.6 L206.5 374.1 L208.1 374.9 L209.7 374.8 L211.4 375.5 L213.0 374.7 L214.6 376.1" fill="none" stroke="#EDB120" stroke-width="1.90" stroke-linejoin="round" stroke-linecap="round" clip-path="url(#cb)"/>
<path d="M67.0 331.0 L68.6 330.9 L70.3 327.9 L71.9 326.2 L73.6 326.1 L75.2 325.4 L76.8 324.2 L78.5 324.6 L80.1 321.5 L81.8 321.1 L83.4 321.2 L85.1 320.4 L86.7 319.8 L88.4 317.2 L90.1 315.4 L91.7 313.3 L93.4 311.4 L95.1 308.9 L96.7 309.7 L98.4 309.0 L100.0 307.2 L101.7 304.2 L103.4 301.8 L105.0 300.3 L106.7 298.5 L108.6 298.5 L110.4 297.4 L112.3 296.2 L114.1 295.7 L116.0 295.3 L117.7 296.9 L119.3 298.6 L121.0 295.9 L122.7 298.5 L124.4 297.6 L126.0 298.6 L127.7 299.6 L129.4 299.5 L131.0 300.0 L132.7 300.8 L134.4 302.0 L136.1 302.3 L137.7 303.8 L139.4 304.9 L141.3 304.9 L143.2 306.2 L145.0 305.9 L146.9 307.3 L148.8 309.2 L150.6 311.8 L152.5 315.0 L154.3 319.6 L156.2 321.6 L158.0 326.0 L159.8 329.3 L161.5 334.4 L163.2 336.7 L165.0 342.6 L166.9 345.0 L168.8 348.2 L170.7 350.2 L172.6 355.0 L174.5 356.9 L176.1 358.7 L177.8 360.4 L179.4 361.0 L181.1 362.1 L182.7 363.0 L184.4 364.9 L186.0 366.1 L187.8 368.2 L189.5 369.5 L191.2 369.3 L193.0 369.7 L194.8 371.3 L196.5 372.8 L198.2 372.8 L200.0 371.8 L201.6 372.9 L203.2 375.6 L204.9 373.9 L206.5 374.3 L208.1 375.0 L209.7 374.6 L211.4 374.3 L213.0 376.1 L214.6 376.9" fill="none" stroke="#7E2F8E" stroke-width="1.90" stroke-linejoin="round" stroke-linecap="round" clip-path="url(#cb)"/>
<path d="M67.0 331.3 L68.6 331.7 L70.3 328.7 L71.9 329.5 L73.6 328.0 L75.2 327.1 L76.8 324.0 L78.5 325.0 L80.1 324.2 L81.8 322.3 L83.4 322.5 L85.1 320.0 L86.7 317.1 L88.4 314.7 L90.1 315.9 L91.7 315.8 L93.4 315.0 L95.1 311.9 L96.7 311.3 L98.4 307.3 L100.0 307.9 L101.7 305.1 L103.4 303.7 L105.0 301.0 L106.7 300.6 L108.6 299.1 L110.4 299.5 L112.3 298.7 L114.1 299.2 L116.0 298.1 L117.7 297.9 L119.3 297.3 L121.0 297.3 L122.7 299.8 L124.4 296.3 L126.0 298.0 L127.7 296.7 L129.4 298.8 L131.0 299.4 L132.7 300.9 L134.4 300.7 L136.1 302.5 L137.7 302.4 L139.4 302.0 L141.3 306.0 L143.2 307.4 L145.0 307.0 L146.9 307.1 L148.8 308.5 L150.6 313.8 L152.5 317.3 L154.3 321.5 L156.2 325.5 L158.0 329.1 L159.8 334.4 L161.5 337.8 L163.2 340.0 L165.0 345.6 L166.9 348.0 L168.8 352.0 L170.7 353.9 L172.6 355.1 L174.5 356.6 L176.1 358.8 L177.8 358.8 L179.4 361.4 L181.1 363.6 L182.7 363.9 L184.4 365.2 L186.0 366.3 L187.8 368.2 L189.5 369.6 L191.2 371.5 L193.0 372.2 L194.8 372.5 L196.5 371.4 L198.2 372.0 L200.0 375.3 L201.6 373.8 L203.2 375.5 L204.9 375.2 L206.5 375.9 L208.1 377.3 L209.7 376.9 L211.4 378.0 L213.0 376.8 L214.6 376.6" fill="none" stroke="#77AC30" stroke-width="1.90" stroke-linejoin="round" stroke-linecap="round" clip-path="url(#cb)"/>
<path d="M67.0 333.8 L68.6 333.4 L70.3 332.9 L71.9 333.6 L73.6 333.4 L75.2 329.3 L76.8 328.5 L78.5 326.4 L80.1 327.9 L81.8 326.0 L83.4 326.3 L85.1 323.2 L86.7 320.5 L88.4 319.9 L90.1 319.8 L91.7 317.5 L93.4 318.2 L95.1 316.1 L96.7 311.2 L98.4 311.0 L100.0 310.2 L101.7 307.8 L103.4 307.0 L105.0 304.1 L106.7 304.6 L108.6 303.6 L110.4 302.8 L112.3 304.2 L114.1 302.4 L116.0 303.0 L117.7 303.8 L119.3 302.3 L121.0 304.6 L122.7 302.3 L124.4 302.4 L126.0 304.3 L127.7 303.0 L129.4 303.3 L131.0 304.0 L132.7 305.1 L134.4 306.1 L136.1 306.8 L137.7 307.1 L139.4 309.0 L141.3 309.9 L143.2 309.1 L145.0 311.7 L146.9 312.4 L148.8 315.2 L150.6 317.7 L152.5 322.6 L154.3 326.6 L156.2 327.0 L158.0 329.1 L159.8 332.9 L161.5 338.2 L163.2 341.9 L165.0 345.5 L166.9 348.5 L168.8 351.5 L170.7 352.6 L172.6 358.1 L174.5 359.8 L176.1 360.8 L177.8 363.1 L179.4 363.6 L181.1 366.4 L182.7 368.5 L184.4 369.4 L186.0 369.6 L187.8 369.5 L189.5 371.8 L191.2 372.4 L193.0 373.2 L194.8 373.2 L196.5 372.9 L198.2 374.4 L200.0 374.5 L201.6 375.1 L203.2 377.8 L204.9 376.8 L206.5 375.4 L208.1 376.9 L209.7 376.0 L211.4 377.2 L213.0 376.3 L214.6 376.3" fill="none" stroke="#4DBEEE" stroke-width="1.90" stroke-linejoin="round" stroke-linecap="round" clip-path="url(#cb)"/>
<path d="M402.5 262.0 L418.8 378.5 L422.3 353.4 L429.3 341.8 L434.0 340.6 L442.2 341.8" fill="none" stroke="#0072BD" stroke-width="1.80" stroke-linejoin="round" stroke-linecap="round" clip-path="url(#cc)"/>
<path d="M294.5 337.8 L296.1 337.3 L297.8 336.5 L299.4 336.3 L301.1 334.8 L302.8 332.9 L304.4 332.2 L306.1 330.4 L307.7 325.9 L309.4 325.6 L311.0 322.8 L312.7 317.1 L314.3 313.6 L316.0 312.2 L317.8 310.9 L319.5 309.4 L321.2 308.1 L323.0 307.0 L324.8 304.7 L326.5 305.8 L328.2 305.5 L330.0 306.9 L331.8 306.2 L333.5 305.2 L335.2 302.8 L337.0 302.7 L338.8 304.6 L340.5 302.2 L342.2 301.4 L344.0 302.1 L345.8 299.8 L347.5 302.5 L349.2 301.5 L351.0 302.2 L352.8 301.2 L354.5 301.8 L356.2 300.2 L358.0 301.9 L359.7 300.9 L361.4 299.4 L363.1 299.8 L364.7 300.1 L366.4 301.0 L368.1 302.2 L369.8 301.2 L371.5 301.1 L373.1 300.9 L374.8 299.0 L376.4 299.2 L378.1 298.4 L379.7 298.3 L381.4 297.7 L383.1 297.3 L384.9 297.1 L386.6 296.7 L388.4 299.8 L390.5 291.7 L392.6 284.2 L394.3 287.7 L396.1 289.3 L397.8 295.7 L399.6 302.2 L401.3 307.3 L403.1 313.4 L404.8 318.7 L406.7 322.6 L408.5 328.5 L410.4 330.0 L412.2 335.1 L414.1 338.1 L416.0 343.1 L417.9 346.4 L419.7 348.8 L421.6 352.4 L423.5 356.9 L425.9 363.5 L428.2 371.3 L430.1 369.8 L431.9 367.5 L433.8 367.3 L435.6 365.0 L437.5 366.1 L439.9 364.8 L442.2 360.8" fill="none" stroke="#D95319" stroke-width="1.90" stroke-linejoin="round" stroke-linecap="round" clip-path="url(#cc)"/>
<path d="M294.5 341.0 L296.1 340.2 L297.8 337.5 L299.4 337.8 L301.1 337.8 L302.8 337.8 L304.4 337.7 L306.1 334.8 L307.7 330.6 L309.4 329.0 L311.0 324.5 L312.7 322.8 L314.3 320.8 L316.0 318.0 L317.8 317.0 L319.5 315.7 L321.2 314.1 L323.0 314.1 L324.8 312.5 L326.5 311.2 L328.2 310.0 L330.0 309.2 L331.8 308.7 L333.5 308.7 L335.2 308.8 L337.0 308.4 L338.8 307.5 L340.5 307.1 L342.2 307.2 L344.0 306.6 L345.8 305.7 L347.5 306.6 L349.2 307.2 L351.0 306.1 L352.8 307.0 L354.5 307.0 L356.2 306.5 L358.0 305.3 L359.7 306.6 L361.4 305.9 L363.1 305.7 L364.7 306.4 L366.4 306.4 L368.1 306.5 L369.8 306.0 L371.5 306.6 L373.1 305.6 L374.8 304.7 L376.4 305.5 L378.1 305.2 L379.7 302.8 L381.4 302.7 L383.1 303.3 L384.9 303.4 L386.6 304.4 L388.4 303.9 L390.5 296.9 L392.6 291.0 L394.3 293.6 L396.1 297.0 L397.8 300.9 L399.6 307.4 L401.3 310.7 L403.1 316.3 L404.8 321.6 L406.7 325.6 L408.5 329.5 L410.4 332.3 L412.2 335.4 L414.1 339.9 L416.0 345.9 L417.9 348.7 L419.7 352.6 L421.6 356.9 L423.5 361.7 L425.9 368.9 L428.2 373.6 L430.1 372.1 L431.9 371.7 L433.8 369.9 L435.6 369.4 L437.5 367.9 L439.9 366.6 L442.2 364.6" fill="none" stroke="#EDB120" stroke-width="1.90" stroke-linejoin="round" stroke-linecap="round" clip-path="url(#cc)"/>
<path d="M294.5 344.8 L296.1 343.1 L297.8 342.6 L299.4 341.1 L301.1 340.0 L302.8 338.8 L304.4 336.7 L306.1 335.6 L307.7 333.6 L309.4 329.4 L311.0 328.4 L312.7 325.9 L314.3 323.5 L316.0 320.7 L317.8 320.1 L319.5 317.6 L321.2 317.9 L323.0 316.9 L324.8 316.0 L326.5 314.6 L328.2 314.6 L330.0 312.7 L331.8 311.8 L333.5 313.0 L335.2 311.7 L337.0 311.0 L338.8 312.0 L340.5 310.2 L342.2 311.6 L344.0 311.0 L345.8 311.9 L347.5 311.8 L349.2 310.8 L351.0 309.0 L352.8 309.0 L354.5 310.4 L356.2 311.3 L358.0 311.3 L359.7 310.4 L361.4 311.0 L363.1 308.9 L364.7 308.7 L366.4 310.8 L368.1 308.0 L369.8 308.0 L371.5 309.1 L373.1 307.7 L374.8 308.8 L376.4 308.9 L378.1 309.5 L379.7 308.7 L381.4 309.4 L383.1 308.3 L384.9 307.8 L386.6 308.7 L388.4 309.0 L390.5 302.3 L392.6 296.8 L394.3 300.1 L396.1 303.6 L397.8 306.9 L399.6 310.9 L401.3 315.5 L403.1 320.1 L404.8 325.9 L406.7 328.7 L408.5 331.6 L410.4 334.4 L412.2 337.7 L414.1 342.8 L416.0 347.6 L417.9 351.8 L419.7 356.0 L421.6 359.4 L423.5 364.2 L425.9 370.0 L428.2 374.3 L430.1 372.7 L431.9 372.4 L433.8 370.2 L435.6 370.0 L437.5 368.7 L439.9 366.1 L442.2 363.6" fill="none" stroke="#7E2F8E" stroke-width="1.90" stroke-linejoin="round" stroke-linecap="round" clip-path="url(#cc)"/>
<path d="M294.5 346.5 L296.1 345.1 L297.8 343.2 L299.4 342.0 L301.1 341.0 L302.8 341.7 L304.4 341.2 L306.1 338.6 L307.7 337.3 L309.4 334.1 L311.0 331.7 L312.7 327.7 L314.3 325.2 L316.0 322.4 L317.8 322.1 L319.5 323.5 L321.2 322.0 L323.0 318.7 L324.8 320.3 L326.5 320.9 L328.2 319.5 L330.0 320.2 L331.8 317.4 L333.5 315.5 L335.2 316.4 L337.0 316.3 L338.8 317.3 L340.5 316.4 L342.2 315.1 L344.0 314.1 L345.8 314.3 L347.5 315.1 L349.2 315.6 L351.0 313.7 L352.8 314.6 L354.5 315.2 L356.2 314.2 L358.0 314.5 L359.7 315.0 L361.4 314.1 L363.1 314.5 L364.7 313.9 L366.4 313.1 L368.1 312.1 L369.8 311.7 L371.5 313.9 L373.1 312.5 L374.8 312.7 L376.4 312.9 L378.1 314.0 L379.7 312.2 L381.4 312.7 L383.1 312.8 L384.9 311.0 L386.6 310.5 L388.4 311.0 L390.5 306.9 L392.6 301.8 L394.3 304.1 L396.1 305.9 L397.8 308.6 L399.6 312.9 L401.3 317.5 L403.1 321.6 L404.8 326.7 L406.7 332.0 L408.5 335.5 L410.4 339.5 L412.2 343.1 L414.1 348.4 L416.0 351.5 L417.9 353.7 L419.7 358.2 L421.6 361.8 L423.5 365.0 L425.9 368.8 L428.2 375.0 L430.1 374.5 L431.9 372.2 L433.8 372.2 L435.6 370.7 L437.5 370.0 L439.9 367.5 L442.2 364.3" fill="none" stroke="#77AC30" stroke-width="1.90" stroke-linejoin="round" stroke-linecap="round" clip-path="url(#cc)"/>
<path d="M294.5 348.2 L296.1 347.0 L297.8 347.9 L299.4 345.9 L301.1 343.2 L302.8 343.2 L304.4 341.9 L306.1 340.4 L307.7 338.8 L309.4 335.7 L311.0 332.6 L312.7 329.8 L314.3 325.9 L316.0 324.2 L317.8 322.1 L319.5 321.6 L321.2 322.5 L323.0 321.8 L324.8 318.9 L326.5 320.1 L328.2 320.3 L330.0 319.6 L331.8 319.3 L333.5 318.6 L335.2 316.4 L337.0 318.1 L338.8 317.7 L340.5 316.9 L342.2 317.2 L344.0 315.1 L345.8 315.8 L347.5 317.9 L349.2 315.9 L351.0 318.2 L352.8 317.6 L354.5 318.2 L356.2 317.7 L358.0 318.2 L359.7 318.4 L361.4 318.7 L363.1 316.8 L364.7 316.8 L366.4 316.9 L368.1 316.1 L369.8 315.4 L371.5 313.6 L373.1 315.9 L374.8 314.3 L376.4 314.4 L378.1 314.5 L379.7 313.4 L381.4 315.3 L383.1 313.8 L384.9 313.2 L386.6 312.4 L388.4 312.1 L390.5 308.3 L392.6 302.4 L394.3 305.7 L396.1 307.1 L397.8 311.8 L399.6 317.8 L401.3 320.8 L403.1 325.5 L404.8 328.5 L406.7 333.5 L408.5 337.3 L410.4 339.0 L412.2 345.3 L414.1 347.4 L416.1 349.1 L418.0 352.1 L419.6 355.8 L421.2 362.8 L422.8 364.9 L424.4 368.0 L426.0 372.8 L427.8 372.0 L429.5 374.1 L431.2 374.4 L433.0 372.9 L434.8 372.8 L436.7 369.5 L438.5 368.0 L440.4 368.8 L442.2 365.1" fill="none" stroke="#4DBEEE" stroke-width="1.90" stroke-linejoin="round" stroke-linecap="round" clip-path="url(#cc)"/>
<path d="M523.6 312.6 L530.2 302.0 L543.0 264.0" fill="none" stroke="#0072BD" stroke-width="1.80" stroke-linejoin="round" stroke-linecap="round" clip-path="url(#cd)"/>
<path d="M643.0 264.0 L655.2 283.4 L664.5 292.7 L670.5 302.0" fill="none" stroke="#0072BD" stroke-width="1.80" stroke-linejoin="round" stroke-linecap="round" clip-path="url(#cd)"/>
<path d="M523.6 321.2 L525.5 321.6 L527.5 319.3 L529.5 319.5 L531.4 318.4 L533.1 317.4 L534.9 317.4 L536.6 317.4 L538.4 314.0 L540.1 311.5 L541.9 305.9 L543.6 302.2 L545.4 295.9 L547.1 296.2 L548.7 297.1 L550.4 294.5 L552.0 295.7 L553.7 293.0 L555.3 293.1 L557.0 291.7 L558.7 291.6 L560.4 292.2 L562.1 291.4 L563.8 291.8 L565.5 293.5 L567.2 295.2 L568.9 295.9 L570.6 294.0 L572.3 295.1 L574.0 294.7 L575.7 295.5 L577.6 296.8 L579.4 296.8 L581.3 299.9 L583.1 301.4 L585.0 303.2 L586.7 303.8 L588.4 303.6 L590.1 305.1 L591.7 304.2 L593.4 306.2 L595.1 308.1 L596.8 309.6 L598.5 307.7 L600.3 308.1 L602.0 305.5 L603.8 305.6 L605.6 309.0 L607.5 310.3 L609.3 313.9 L611.2 313.4 L613.0 315.4 L614.8 316.7 L616.5 320.0 L618.2 321.4 L620.0 323.0 L621.8 327.0 L623.5 329.0 L625.2 332.3 L627.0 335.3 L628.6 337.2 L630.3 338.6 L632.0 339.0 L633.6 340.9 L635.2 343.7 L636.9 345.1 L638.5 346.3 L640.2 346.5 L641.9 347.7 L643.5 349.5 L645.1 351.9 L646.8 353.1 L648.5 355.2 L650.1 354.9 L651.8 356.8 L653.4 358.1 L655.0 358.5 L656.7 360.6 L658.4 360.6 L660.0 362.5 L661.8 363.8 L663.5 363.3 L665.2 365.7 L667.0 367.9 L668.8 367.4 L670.5 368.3" fill="none" stroke="#D95319" stroke-width="1.90" stroke-linejoin="round" stroke-linecap="round" clip-path="url(#cd)"/>
<path d="M523.6 324.1 L525.5 324.3 L527.5 323.5 L529.5 321.7 L531.4 322.0 L533.1 322.8 L534.9 320.0 L536.6 319.9 L538.4 318.8 L540.1 315.4 L541.9 310.7 L543.6 304.7 L545.4 301.3 L547.1 299.4 L548.7 297.8 L550.4 297.5 L552.0 298.0 L553.7 296.8 L555.3 296.7 L557.0 296.6 L558.7 296.3 L560.4 296.2 L562.1 297.6 L563.8 296.4 L565.5 298.0 L567.2 298.2 L568.9 296.7 L570.6 297.7 L572.3 298.3 L574.0 297.6 L575.7 298.8 L577.6 300.9 L579.4 302.2 L581.3 303.6 L583.1 304.3 L585.0 304.5 L586.7 305.9 L588.4 308.2 L590.1 309.7 L591.7 309.7 L593.4 309.8 L595.1 311.6 L596.8 313.3 L598.5 312.3 L600.3 313.5 L602.0 310.8 L603.8 309.6 L605.6 310.9 L607.5 314.5 L609.3 315.1 L611.2 316.6 L613.0 319.0 L614.8 321.0 L616.5 323.9 L618.2 325.6 L620.0 327.9 L621.8 330.0 L623.5 331.0 L625.2 335.3 L627.0 335.8 L628.6 338.1 L630.3 338.6 L632.0 339.7 L633.6 340.2 L635.2 343.9 L636.9 347.1 L638.5 347.6 L640.2 350.4 L641.9 350.2 L643.5 352.4 L645.1 353.6 L646.8 354.8 L648.5 355.2 L650.1 358.0 L651.8 357.6 L653.4 359.8 L655.0 359.2 L656.7 362.4 L658.4 362.6 L660.0 364.2 L661.8 364.1 L663.5 364.7 L665.2 365.6 L667.0 367.4 L668.8 368.9 L670.5 370.0" fill="none" stroke="#EDB120" stroke-width="1.90" stroke-linejoin="round" stroke-linecap="round" clip-path="url(#cd)"/>
<path d="M523.6 329.3 L525.5 328.6 L527.5 329.0 L529.5 327.6 L531.4 327.4 L533.1 327.1 L534.9 325.5 L536.6 326.2 L538.4 324.2 L540.1 320.1 L541.9 317.9 L543.6 314.2 L545.4 311.1 L547.1 309.9 L548.7 309.5 L550.4 307.4 L552.0 309.0 L553.7 306.8 L555.3 305.8 L557.0 305.1 L558.7 305.4 L560.4 305.0 L562.1 306.2 L563.8 307.4 L565.5 306.3 L567.2 306.6 L568.9 306.4 L570.6 306.7 L572.3 308.6 L574.0 308.9 L575.7 310.3 L577.6 309.7 L579.4 311.4 L581.3 312.7 L583.1 314.2 L585.0 315.6 L586.7 316.4 L588.4 316.3 L590.1 317.6 L591.7 316.2 L593.4 318.7 L595.1 318.9 L596.8 319.4 L598.5 321.5 L600.3 319.4 L602.0 320.3 L603.8 318.5 L605.6 320.6 L607.5 322.2 L609.3 325.0 L611.2 327.8 L613.0 328.8 L614.8 331.3 L616.5 332.5 L618.2 334.1 L620.0 335.5 L621.8 335.1 L623.5 337.2 L625.2 338.6 L627.0 341.0 L628.6 341.8 L630.3 343.9 L632.0 346.8 L633.6 347.2 L635.2 348.7 L636.9 349.8 L638.5 349.9 L640.2 353.7 L641.9 353.3 L643.5 355.9 L645.1 357.8 L646.8 359.6 L648.5 359.6 L650.1 360.4 L651.8 360.8 L653.4 360.9 L655.0 362.2 L656.7 362.9 L658.4 363.2 L660.0 363.7 L661.8 365.1 L663.5 367.9 L665.2 368.8 L667.0 368.1 L668.8 368.9 L670.5 369.8" fill="none" stroke="#7E2F8E" stroke-width="1.90" stroke-linejoin="round" stroke-linecap="round" clip-path="url(#cd)"/>
<path d="M523.6 332.6 L525.5 333.1 L527.5 331.8 L529.5 331.5 L531.4 328.9 L533.1 328.3 L534.9 327.9 L536.6 328.4 L538.4 325.6 L540.1 322.5 L541.9 320.5 L543.6 317.4 L545.4 313.1 L547.1 311.6 L548.7 311.9 L550.4 311.1 L552.0 310.0 L553.7 310.9 L555.3 311.0 L557.0 308.4 L558.7 309.6 L560.4 309.9 L562.1 310.6 L563.8 310.9 L565.5 312.8 L567.2 311.5 L568.9 310.4 L570.6 310.4 L572.3 310.1 L574.0 310.5 L575.7 310.8 L577.6 313.6 L579.4 315.7 L581.3 317.4 L583.1 318.2 L585.0 317.8 L586.7 317.7 L588.4 320.0 L590.1 319.7 L591.7 321.0 L593.4 321.0 L595.1 321.5 L596.8 322.5 L598.5 324.4 L600.3 324.0 L602.0 323.1 L603.8 323.4 L605.6 326.8 L607.5 327.0 L609.3 328.1 L611.2 329.6 L613.0 330.7 L614.8 333.3 L616.5 335.2 L618.2 336.8 L620.0 337.6 L621.8 338.5 L623.5 339.8 L625.2 340.6 L627.0 343.3 L628.6 346.6 L630.3 346.3 L632.0 349.6 L633.6 349.7 L635.2 351.5 L636.9 351.1 L638.5 354.0 L640.2 355.2 L641.9 358.2 L643.5 359.3 L645.1 358.9 L646.8 360.6 L648.5 361.4 L650.1 362.5 L651.8 364.8 L653.4 364.0 L655.0 364.1 L656.7 364.6 L658.4 364.5 L660.0 367.5 L661.8 369.6 L663.5 370.0 L665.2 369.9 L667.0 369.5 L668.8 369.7 L670.5 373.0" fill="none" stroke="#77AC30" stroke-width="1.90" stroke-linejoin="round" stroke-linecap="round" clip-path="url(#cd)"/>
<path d="M523.6 336.6 L525.5 336.6 L527.5 335.1 L529.5 334.0 L531.4 334.2 L533.1 331.4 L534.9 332.0 L536.6 331.3 L538.4 330.8 L540.1 327.5 L541.9 322.1 L543.6 316.0 L545.4 311.9 L547.1 310.9 L548.7 312.3 L550.4 310.9 L552.0 313.2 L553.7 314.4 L555.3 312.3 L557.0 311.0 L558.7 313.1 L560.4 312.8 L562.1 314.3 L563.8 314.0 L565.5 312.4 L567.2 314.0 L568.9 314.1 L570.6 314.2 L572.3 316.3 L574.0 314.5 L575.7 314.5 L577.6 313.3 L579.4 317.1 L581.3 316.3 L583.1 318.0 L585.0 319.9 L586.7 320.3 L588.4 319.6 L590.1 321.2 L591.7 321.3 L593.4 322.6 L595.1 323.9 L596.8 324.8 L598.5 325.0 L600.3 325.2 L602.0 324.3 L603.8 326.3 L605.6 325.7 L607.5 327.1 L609.3 328.5 L611.2 329.1 L613.0 331.0 L614.8 333.6 L616.5 334.5 L618.2 336.8 L620.0 341.0 L621.8 343.1 L623.5 344.7 L625.2 348.7 L627.0 351.3 L628.6 353.1 L630.3 351.2 L632.0 352.0 L633.6 352.9 L635.2 354.0 L636.9 355.5 L638.5 356.9 L640.2 359.3 L641.9 358.6 L643.5 360.7 L645.1 361.4 L646.8 361.7 L648.5 361.4 L650.1 361.9 L651.8 364.3 L653.4 362.9 L655.0 365.2 L656.7 367.1 L658.4 367.8 L660.0 366.7 L661.8 368.3 L663.5 368.6 L665.2 370.7 L667.0 370.2 L668.8 369.5 L670.5 371.2" fill="none" stroke="#4DBEEE" stroke-width="1.90" stroke-linejoin="round" stroke-linecap="round" clip-path="url(#cd)"/>
<path d="M67.9 570.6 C68.2 567.6 69.2 558.2 69.9 552.8 C70.6 547.4 71.2 541.1 71.9 538.4 C72.6 535.7 73.0 536.6 73.8 536.4 C74.6 536.2 74.1 536.0 76.5 537.1 C78.9 538.2 84.1 540.9 88.3 543.0 C92.5 545.1 97.0 547.2 101.4 549.6 C105.8 552.0 110.6 555.0 114.6 557.4 C118.5 559.8 121.8 562.1 125.1 564.0 C128.4 565.9 132.8 567.8 134.3 568.6 C134.7 568.5 136.1 568.4 136.9 568.0 C137.7 567.6 138.1 566.5 138.9 566.0 C139.7 565.5 141.1 565.4 141.5 565.3 C142.3 564.8 144.3 563.5 146.1 562.0 C147.8 560.5 147.9 560.3 152.0 556.1 C156.1 551.9 163.8 544.3 170.4 536.7 C177.0 529.1 186.5 517.6 191.4 510.4 C196.3 503.2 197.7 498.4 200.0 493.3 C202.3 488.2 203.5 484.2 205.2 480.1 C206.9 476.1 208.7 471.7 210.3 469.0 C211.9 466.3 213.4 464.9 214.7 463.8 C216.0 462.7 217.6 462.4 218.2 462.1 C218.2 465.5 218.4 478.9 218.4 482.3 C218.4 478.9 218.6 465.5 218.6 462.1 C218.9 462.4 219.6 461.8 220.6 463.8 C221.6 465.8 222.8 470.0 224.3 474.2 C225.8 478.4 227.2 484.0 229.5 488.9 C231.8 493.8 235.1 498.3 238.3 503.7 C241.5 509.1 245.2 515.3 248.7 521.4 C252.1 527.5 256.3 534.9 259.0 540.5 C261.7 546.1 263.4 551.4 264.9 555.3 C266.4 559.2 267.6 562.6 268.1 564.1 C268.8 561.9 270.6 557.3 272.3 550.9 C274.0 544.5 276.0 534.4 278.2 525.8 C280.4 517.2 283.3 506.3 285.5 499.2 C287.7 492.1 289.4 486.6 291.4 483.0 C293.4 479.4 296.0 478.6 297.3 477.9 C298.6 477.2 298.5 477.5 299.4 478.7 C300.3 479.9 301.7 480.3 302.9 484.8 C304.1 489.3 305.8 502.3 306.4 505.8 C306.5 506.7 307.1 510.1 307.3 511.0 C307.4 509.7 307.6 504.3 307.6 503.0 C308.0 505.8 308.9 515.8 309.9 519.8 C310.9 523.8 312.8 525.6 313.4 526.8 C314.1 525.9 315.9 524.5 317.8 521.6 C319.7 518.7 322.8 512.8 324.8 509.3 C326.8 505.8 328.4 502.6 330.0 500.5 C331.6 498.4 333.2 497.1 334.4 497.0 C335.6 496.9 336.1 496.5 337.0 499.7 C337.9 502.9 338.8 509.7 339.7 516.3 C340.6 522.9 341.4 531.2 342.3 539.1 C343.2 547.0 344.3 558.4 344.9 563.6 C345.5 568.9 345.6 569.4 345.8 570.6 C349.6 570.6 364.8 570.6 368.6 570.6 C369.2 570.0 370.1 572.4 372.1 567.1 C374.1 561.9 377.9 549.3 380.8 539.1 C383.7 528.9 387.2 514.0 389.6 505.8 C392.0 497.6 392.8 494.4 394.9 490.0 C396.9 485.6 399.7 482.0 401.9 479.5 C404.1 477.0 407.0 475.8 408.0 475.1 C409.3 476.6 412.8 480.3 415.8 484.2 C418.9 488.1 422.4 493.8 426.3 498.6 C430.2 503.4 435.0 508.4 439.4 513.0 C443.8 517.6 448.6 521.8 452.5 526.2 C456.4 530.6 459.9 535.9 463.0 539.3 C466.1 542.7 469.6 545.5 470.9 546.7 C472.2 543.3 476.2 530.6 478.8 526.2 C481.4 521.8 484.1 520.4 486.7 520.4 C489.3 520.4 491.5 522.6 494.6 526.2 C497.7 529.8 501.6 536.8 505.1 542.0 C508.6 547.2 512.5 554.0 515.6 557.7 C518.7 561.4 522.2 563.2 523.5 564.3 C524.8 562.3 528.3 556.7 531.4 552.5 C534.5 548.3 538.4 542.3 541.9 539.3 C545.4 536.3 548.9 535.0 552.4 534.6 C555.9 534.2 558.4 534.2 562.8 536.7 C567.2 539.2 572.7 544.3 578.6 549.8 C584.5 555.3 595.0 566.2 598.3 569.5 C598.9 569.1 598.9 569.5 602.2 566.9 C605.5 564.3 612.3 558.2 618.0 553.8 C623.7 549.4 633.3 542.8 636.4 540.6 C636.8 542.1 637.7 545.8 639.0 549.8 C640.3 553.8 641.7 561.0 644.3 564.3 C646.9 567.6 650.6 568.4 654.8 569.5 C658.9 570.6 666.8 570.7 669.2 570.9" fill="none" stroke="#0072BD" stroke-width="2.00" stroke-linejoin="round" stroke-linecap="round" clip-path="url(#ce)"/>
<path d="M67.9 571.2 L69.9 568.0 L72.5 569.3 L72.5 568.7 L74.5 567.0 L76.5 565.3 L79.0 564.5 L80.6 564.7 L82.2 565.0 L83.8 565.1 L85.4 565.1 L87.0 565.3 L88.6 565.6 L90.2 565.7 L91.8 565.7 L93.4 565.9 L95.0 566.3 L96.6 566.3 L98.2 566.5 L99.8 566.7 L101.4 566.7 L102.9 567.0 L104.5 567.1 L106.0 567.3 L107.6 567.4 L109.1 567.6 L110.7 567.7 L112.2 567.7 L113.7 568.0 L115.3 568.2 L116.8 568.5 L118.4 568.6 L119.9 568.6 L121.5 568.8 L123.0 569.1 L124.6 569.1 L126.1 569.3 L127.6 569.5 L129.2 569.7 L130.7 570.0 L132.3 570.0 L133.8 570.3 L135.4 570.3 L136.9 570.6 L138.4 570.5 L139.9 570.4 L141.4 570.3 L142.9 570.3 L144.4 570.3 L146.0 570.0 L147.5 569.9 L149.0 569.9 L150.5 569.9 L152.0 569.8 L153.6 569.3 L155.2 568.8 L156.9 568.3 L158.5 567.8 L160.1 567.5 L161.8 566.9 L163.4 566.5 L165.0 565.9 L166.6 565.4 L168.1 565.1 L169.7 564.4 L171.2 563.9 L172.8 563.6 L174.3 563.1 L175.9 562.7 L177.4 562.2 L179.0 561.7 L180.5 561.3 L182.1 560.9 L183.6 560.3 L185.2 559.8 L186.7 559.3 L188.3 558.8 L189.8 558.6 L191.4 558.0 L192.9 557.6 L194.4 557.1 L195.9 556.6 L197.4 556.1 L199.0 555.7 L200.5 555.3 L202.0 554.8 L203.5 554.5 L205.0 554.0 L206.6 553.4 L208.2 553.2 L209.7 552.5 L211.3 552.2 L212.9 551.7 L214.4 551.3 L216.0 550.6 L217.6 550.2 L219.5 547.7 L222.1 554.2 L223.9 554.6 L225.8 555.3 L227.7 556.1 L229.5 556.8 L231.0 557.3 L232.5 557.9 L234.0 558.5 L235.5 558.9 L237.1 559.6 L238.6 560.3 L240.1 560.9 L241.6 561.6 L243.1 562.2 L244.6 562.7 L246.2 563.1 L247.7 563.7 L249.3 563.9 L250.8 564.5 L252.3 565.0 L253.9 565.3 L255.4 565.9 L256.9 566.4 L258.5 566.9 L260.0 567.5 L261.6 567.8 L263.1 568.3 L264.6 568.8 L266.2 569.1 L267.7 569.9 L269.3 570.2 L270.8 570.8 L272.4 569.4 L274.1 568.1 L275.8 566.9 L277.4 565.6 L279.1 564.2 L280.7 562.9 L282.4 561.7 L284.0 560.4 L285.6 560.2 L287.1 559.8 L288.7 559.3 L290.3 558.7 L291.9 558.5 L293.4 558.0 L295.0 557.6 L296.5 557.9 L298.0 558.0 L299.5 558.2 L301.0 558.4 L302.5 558.6 L304.0 558.9 L305.5 559.5 L307.2 561.7 L309.0 563.8 L310.8 566.1 L312.5 568.5 L314.3 559.4 L315.8 558.6 L317.3 557.9 L318.8 556.9 L320.3 556.2 L321.8 555.5 L323.3 554.8 L324.8 554.2 L326.3 553.6 L327.8 552.8 L329.3 552.1 L330.8 551.1 L332.3 550.4 L333.8 549.8 L335.3 549.0 L337.0 539.9 L338.5 548.9 L340.4 552.7 L342.3 556.9 L344.1 549.5 L345.8 542.3 L346.7 570.6 L348.3 570.7 L349.8 570.7 L351.4 570.6 L353.0 570.7 L354.5 570.6 L356.1 570.6 L357.6 570.9 L359.2 570.9 L360.8 570.7 L362.3 570.6 L363.9 570.6 L365.5 570.7 L367.0 570.8 L368.6 570.8 L370.2 570.2 L371.7 569.6 L373.3 568.9 L374.8 568.2 L376.4 567.5 L377.9 567.0 L379.5 566.4 L381.0 565.8 L382.6 565.3 L384.5 564.4 L386.3 563.2 L388.1 562.3 L390.0 561.3 L391.9 558.2 L393.7 555.3 L395.5 554.4 L397.4 553.3 L398.9 553.3 L400.4 553.1 L401.9 553.2 L403.5 553.0 L405.0 552.8 L406.5 552.8 L408.0 552.4 L409.0 551.1 L410.7 552.7 L412.4 554.2 L414.1 555.7 L415.8 557.1 L417.3 557.4 L418.8 557.7 L420.3 558.0 L421.9 558.5 L423.4 558.8 L424.9 559.1 L426.4 559.5 L427.9 560.0 L429.4 560.3 L430.9 560.5 L432.4 560.8 L433.9 561.2 L435.5 561.5 L437.0 562.0 L438.5 562.2 L440.0 562.6 L441.5 563.0 L443.1 563.2 L444.6 563.6 L446.2 564.0 L447.7 564.4 L449.2 564.8 L450.8 565.3 L452.3 565.5 L453.8 565.6 L455.4 566.1 L456.9 566.6 L458.5 566.8 L460.0 567.2 L461.5 567.5 L463.1 568.0 L464.6 568.4 L466.1 568.9 L467.7 569.1 L469.2 569.5 L470.8 569.9 L472.3 570.1 L473.9 568.3 L475.6 566.6 L477.2 565.0 L478.8 563.2 L480.3 563.4 L481.9 563.7 L483.4 563.9 L485.0 564.1 L486.5 564.2 L488.1 564.4 L489.6 564.4 L491.2 564.7 L492.7 565.0 L494.3 565.1 L495.8 565.3 L497.4 565.2 L498.9 565.4 L500.5 565.7 L502.0 565.8 L503.6 566.0 L505.1 566.3 L506.6 566.6 L508.2 567.2 L509.7 567.5 L511.2 567.9 L512.8 568.4 L514.3 568.6 L515.8 569.1 L517.4 569.4 L518.9 569.8 L520.4 570.2 L522.0 570.5 L523.5 571.0 L525.0 570.6 L526.5 570.4 L528.1 570.0 L529.6 569.7 L531.1 569.3 L532.6 569.1 L534.1 568.7 L535.7 568.4 L537.2 567.9 L538.7 567.7 L540.2 567.6 L541.8 567.3 L543.3 567.1 L544.8 566.6 L546.3 566.2 L547.8 565.8 L549.4 565.8 L550.9 565.4 L552.4 565.0 L553.9 565.4 L555.5 565.6 L557.0 565.7 L558.5 566.0 L560.0 566.2 L561.6 566.4 L563.1 566.5 L564.6 566.5 L566.2 566.9 L567.7 567.1 L569.2 567.1 L570.8 567.4 L572.3 567.8 L573.8 567.9 L575.3 568.2 L576.9 568.2 L578.4 568.5 L579.9 568.4 L581.5 568.7 L583.0 568.8 L584.5 569.2 L586.1 569.5 L587.6 569.8 L589.1 569.7 L590.6 570.0 L592.2 570.3 L593.7 570.3 L595.2 570.5 L596.8 570.9 L598.3 570.9 L599.8 570.6 L601.3 570.3 L602.9 570.2 L604.4 569.9 L605.9 569.7 L607.4 569.3 L609.0 569.1 L610.5 568.9 L612.0 568.8 L613.5 568.3 L615.1 568.3 L616.6 568.0 L618.1 567.9 L619.6 567.7 L621.2 567.5 L622.7 567.5 L624.2 567.0 L625.7 566.7 L627.3 566.6 L628.8 566.3 L630.3 566.1 L631.8 566.0 L633.4 565.5 L634.9 565.4 L636.4 565.1 L638.0 568.4 L639.6 568.6 L641.1 568.7 L642.7 568.8 L644.2 569.1 L645.8 569.1 L647.4 569.2 L648.9 569.3 L650.5 569.6 L652.0 569.5 L653.6 569.7 L655.2 569.9 L656.7 569.8 L658.3 570.0 L659.8 570.2 L661.4 570.3 L663.0 570.4 L664.5 570.6 L666.1 570.7 L667.6 570.9 L669.2 571.0" fill="none" stroke="#D95319" stroke-width="2.00" stroke-linejoin="round" stroke-linecap="round" clip-path="url(#ce)"/>
<path d="M67.9 571.2 L69.9 568.0 L72.5 569.3 L72.5 568.9 L74.5 567.2 L76.5 565.8 L79.0 565.0 L80.6 565.1 L82.2 565.3 L83.8 565.2 L85.4 565.6 L87.0 565.7 L88.6 565.8 L90.2 566.2 L91.8 566.2 L93.4 566.5 L95.0 566.4 L96.6 566.8 L98.2 567.0 L99.8 567.2 L101.4 567.2 L102.9 567.4 L104.5 567.6 L106.0 567.7 L107.6 567.7 L109.1 567.7 L110.7 567.8 L112.2 568.1 L113.7 568.2 L115.3 568.5 L116.8 568.6 L118.4 568.7 L119.9 568.7 L121.5 569.1 L123.0 569.3 L124.6 569.5 L126.1 569.4 L127.6 569.5 L129.2 569.8 L130.7 569.9 L132.3 570.1 L133.8 570.4 L135.4 570.3 L136.9 570.5 L138.4 570.6 L139.9 570.4 L141.4 570.5 L142.9 570.2 L144.4 570.2 L146.0 570.2 L147.5 570.0 L149.0 570.2 L150.5 570.3 L152.0 570.1 L153.6 569.6 L155.2 569.1 L156.9 568.5 L158.5 568.1 L160.1 567.6 L161.8 567.1 L163.4 566.9 L165.0 566.3 L166.6 565.7 L168.1 565.5 L169.7 565.1 L171.2 564.4 L172.8 564.0 L174.3 563.7 L175.9 563.1 L177.4 563.0 L179.0 562.3 L180.5 561.9 L182.1 561.4 L183.6 561.1 L185.2 560.7 L186.7 560.1 L188.3 559.9 L189.8 559.3 L191.4 559.1 L192.9 558.6 L194.4 558.1 L195.9 557.7 L197.4 557.2 L199.0 556.8 L200.5 556.5 L202.0 556.1 L203.5 555.8 L205.0 555.2 L206.6 555.0 L208.2 554.6 L209.7 554.1 L211.3 553.5 L212.9 553.1 L214.4 552.8 L216.0 552.3 L217.6 551.8 L219.5 549.5 L222.1 555.4 L223.9 555.9 L225.8 556.6 L227.7 557.2 L229.5 557.7 L231.0 558.5 L232.5 559.2 L234.0 559.5 L235.5 560.0 L237.1 560.4 L238.6 561.1 L240.1 561.5 L241.6 562.0 L243.1 562.8 L244.6 563.2 L246.2 563.4 L247.7 564.1 L249.3 564.5 L250.8 564.8 L252.3 565.3 L253.9 565.7 L255.4 566.0 L256.9 566.6 L258.5 566.9 L260.0 567.6 L261.6 568.1 L263.1 568.5 L264.6 569.0 L266.2 569.4 L267.7 569.7 L269.3 570.2 L270.8 570.7 L272.4 569.4 L274.1 568.6 L275.8 567.1 L277.4 566.1 L279.1 565.0 L280.7 563.7 L282.4 562.7 L284.0 561.6 L285.6 561.0 L287.1 560.6 L288.7 560.3 L290.3 559.6 L291.9 559.1 L293.4 558.7 L295.0 558.3 L296.5 558.6 L298.0 559.0 L299.5 559.2 L301.0 559.4 L302.5 559.6 L304.0 559.9 L305.5 560.3 L307.2 562.2 L309.0 564.3 L310.8 566.5 L312.5 568.6 L314.3 560.1 L315.8 559.5 L317.3 558.9 L318.8 558.2 L320.3 557.4 L321.8 556.9 L323.3 556.1 L324.8 555.4 L326.3 554.9 L327.8 554.2 L329.3 553.3 L330.8 552.7 L332.3 552.1 L333.8 551.3 L335.3 550.7 L337.0 542.5 L338.5 550.7 L340.4 554.2 L342.3 557.9 L344.1 551.1 L345.8 544.6 L346.7 570.8 L348.3 570.8 L349.8 570.9 L351.4 570.9 L353.0 571.0 L354.5 571.0 L356.1 570.8 L357.6 570.8 L359.2 570.9 L360.8 570.8 L362.3 570.8 L363.9 570.7 L365.5 570.7 L367.0 570.8 L368.6 570.6 L370.2 570.2 L371.7 569.7 L373.3 569.0 L374.8 568.4 L376.4 567.8 L377.9 567.2 L379.5 566.8 L381.0 566.3 L382.6 565.6 L384.5 564.5 L386.3 563.7 L388.1 562.9 L390.0 561.9 L391.9 559.4 L393.7 556.6 L395.5 555.6 L397.4 554.8 L398.9 554.8 L400.4 554.6 L401.9 554.3 L403.5 554.2 L405.0 554.2 L406.5 554.1 L408.0 553.9 L409.0 552.7 L410.7 554.0 L412.4 555.7 L414.1 556.8 L415.8 558.3 L417.3 558.4 L418.8 558.9 L420.3 559.2 L421.9 559.6 L423.4 559.9 L424.9 560.3 L426.4 560.6 L427.9 560.9 L429.4 561.3 L430.9 561.4 L432.4 561.7 L433.9 562.0 L435.5 562.3 L437.0 562.5 L438.5 562.8 L440.0 563.1 L441.5 563.5 L443.1 563.8 L444.6 564.2 L446.2 564.4 L447.7 564.9 L449.2 565.2 L450.8 565.7 L452.3 565.8 L453.8 566.2 L455.4 566.7 L456.9 566.9 L458.5 567.2 L460.0 567.4 L461.5 567.7 L463.1 568.1 L464.6 568.4 L466.1 568.7 L467.7 569.1 L469.2 569.5 L470.8 569.7 L472.3 570.0 L473.9 568.3 L475.6 566.7 L477.2 565.3 L478.8 563.9 L480.3 563.8 L481.9 564.0 L483.4 564.3 L485.0 564.6 L486.5 564.7 L488.1 564.9 L489.6 564.8 L491.2 565.0 L492.7 565.1 L494.3 565.5 L495.8 565.5 L497.4 565.7 L498.9 566.1 L500.5 565.9 L502.0 566.2 L503.6 566.5 L505.1 566.6 L506.6 567.1 L508.2 567.3 L509.7 567.7 L511.2 568.0 L512.8 568.4 L514.3 568.7 L515.8 569.1 L517.4 569.6 L518.9 569.8 L520.4 570.2 L522.0 570.6 L523.5 571.1 L525.0 570.7 L526.5 570.3 L528.1 570.1 L529.6 569.8 L531.1 569.5 L532.6 569.3 L534.1 569.0 L535.7 568.6 L537.2 568.4 L538.7 568.1 L540.2 567.8 L541.8 567.5 L543.3 567.2 L544.8 566.9 L546.3 566.7 L547.8 566.4 L549.4 566.2 L550.9 565.7 L552.4 565.5 L553.9 565.8 L555.5 566.0 L557.0 566.2 L558.5 566.4 L560.0 566.4 L561.6 566.5 L563.1 566.8 L564.6 566.8 L566.2 567.2 L567.7 567.5 L569.2 567.4 L570.8 567.6 L572.3 567.6 L573.8 567.9 L575.3 568.3 L576.9 568.4 L578.4 568.8 L579.9 569.0 L581.5 569.0 L583.0 569.0 L584.5 569.4 L586.1 569.6 L587.6 569.7 L589.1 569.6 L590.6 569.9 L592.2 570.2 L593.7 570.5 L595.2 570.6 L596.8 570.8 L598.3 571.0 L599.8 570.8 L601.3 570.6 L602.9 570.5 L604.4 570.0 L605.9 569.8 L607.4 569.5 L609.0 569.2 L610.5 569.1 L612.0 568.9 L613.5 568.7 L615.1 568.7 L616.6 568.5 L618.1 568.3 L619.6 568.0 L621.2 567.9 L622.7 567.5 L624.2 567.2 L625.7 567.2 L627.3 566.8 L628.8 566.7 L630.3 566.6 L631.8 566.2 L633.4 565.9 L634.9 565.7 L636.4 565.5 L638.0 568.6 L639.6 568.9 L641.1 568.9 L642.7 569.0 L644.2 569.1 L645.8 569.2 L647.4 569.4 L648.9 569.4 L650.5 569.5 L652.0 569.8 L653.6 569.8 L655.2 569.9 L656.7 570.1 L658.3 570.1 L659.8 570.3 L661.4 570.4 L663.0 570.7 L664.5 570.7 L666.1 570.7 L667.6 571.0 L669.2 571.0" fill="none" stroke="#EDB120" stroke-width="2.00" stroke-linejoin="round" stroke-linecap="round" clip-path="url(#ce)"/>
<path d="M67.9 571.2 L69.9 568.0 L72.5 569.3 L72.5 569.1 L74.5 567.6 L76.5 566.3 L79.0 565.7 L80.6 565.7 L82.2 565.9 L83.8 566.1 L85.4 566.1 L87.0 566.5 L88.6 566.4 L90.2 566.7 L91.8 566.9 L93.4 567.0 L95.0 567.0 L96.6 567.2 L98.2 567.3 L99.8 567.6 L101.4 567.6 L102.9 567.8 L104.5 567.8 L106.0 568.1 L107.6 568.2 L109.1 568.4 L110.7 568.4 L112.2 568.5 L113.7 568.7 L115.3 568.7 L116.8 569.0 L118.4 569.0 L119.9 569.3 L121.5 569.3 L123.0 569.6 L124.6 569.5 L126.1 569.6 L127.6 569.7 L129.2 569.7 L130.7 569.8 L132.3 570.1 L133.8 570.2 L135.4 570.6 L136.9 570.8 L138.4 570.6 L139.9 570.6 L141.4 570.6 L142.9 570.5 L144.4 570.4 L146.0 570.4 L147.5 570.3 L149.0 570.2 L150.5 570.3 L152.0 570.1 L153.6 569.6 L155.2 569.4 L156.9 569.1 L158.5 568.6 L160.1 568.0 L161.8 567.7 L163.4 567.1 L165.0 566.5 L166.6 566.3 L168.1 566.0 L169.7 565.8 L171.2 565.3 L172.8 564.9 L174.3 564.3 L175.9 564.0 L177.4 563.7 L179.0 563.3 L180.5 562.9 L182.1 562.5 L183.6 562.3 L185.2 561.7 L186.7 561.4 L188.3 561.0 L189.8 560.6 L191.4 560.1 L192.9 560.0 L194.4 559.6 L195.9 559.3 L197.4 559.0 L199.0 558.8 L200.5 558.4 L202.0 558.1 L203.5 557.6 L205.0 557.3 L206.6 556.9 L208.2 556.4 L209.7 556.0 L211.3 555.7 L212.9 555.3 L214.4 555.1 L216.0 554.6 L217.6 554.1 L219.5 551.9 L222.1 557.2 L223.9 557.6 L225.8 558.3 L227.7 558.9 L229.5 559.4 L231.0 559.8 L232.5 560.2 L234.0 560.8 L235.5 561.1 L237.1 561.5 L238.6 562.1 L240.1 562.6 L241.6 563.1 L243.1 563.6 L244.6 564.0 L246.2 564.5 L247.7 564.7 L249.3 565.3 L250.8 565.6 L252.3 566.1 L253.9 566.5 L255.4 566.8 L256.9 567.1 L258.5 567.5 L260.0 568.0 L261.6 568.3 L263.1 568.8 L264.6 569.1 L266.2 569.5 L267.7 570.0 L269.3 570.5 L270.8 570.6 L272.4 569.6 L274.1 568.8 L275.8 567.7 L277.4 566.6 L279.1 565.4 L280.7 564.5 L282.4 563.7 L284.0 562.6 L285.6 562.2 L287.1 561.7 L288.7 561.3 L290.3 561.0 L291.9 560.6 L293.4 560.2 L295.0 559.9 L296.5 560.1 L298.0 560.3 L299.5 560.7 L301.0 560.8 L302.5 560.9 L304.0 561.3 L305.5 561.4 L307.2 563.0 L309.0 565.1 L310.8 566.8 L312.5 568.6 L314.3 561.4 L315.8 560.9 L317.3 560.2 L318.8 559.6 L320.3 559.0 L321.8 558.2 L323.3 557.7 L324.8 557.1 L326.3 556.5 L327.8 556.0 L329.3 555.6 L330.8 555.0 L332.3 554.4 L333.8 553.6 L335.3 552.9 L337.0 545.4 L338.5 552.7 L340.4 556.1 L342.3 559.2 L344.1 553.3 L345.8 547.6 L346.7 570.7 L348.3 570.8 L349.8 570.6 L351.4 570.7 L353.0 570.6 L354.5 570.8 L356.1 570.8 L357.6 570.7 L359.2 570.9 L360.8 570.8 L362.3 570.6 L363.9 570.7 L365.5 570.7 L367.0 570.8 L368.6 570.7 L370.2 570.4 L371.7 569.8 L373.3 569.3 L374.8 568.8 L376.4 568.2 L377.9 567.7 L379.5 567.3 L381.0 566.9 L382.6 566.3 L384.5 565.4 L386.3 564.6 L388.1 564.1 L390.0 563.1 L391.9 560.7 L393.7 558.3 L395.5 557.4 L397.4 556.6 L398.9 556.3 L400.4 556.4 L401.9 556.1 L403.5 556.1 L405.0 556.0 L406.5 556.1 L408.0 556.1 L409.0 554.9 L410.7 556.1 L412.4 557.4 L414.1 558.4 L415.8 559.6 L417.3 560.0 L418.8 560.3 L420.3 560.7 L421.9 561.1 L423.4 561.3 L424.9 561.7 L426.4 561.7 L427.9 562.1 L429.4 562.3 L430.9 562.6 L432.4 562.8 L433.9 563.2 L435.5 563.3 L437.0 563.6 L438.5 563.8 L440.0 564.0 L441.5 564.2 L443.1 564.5 L444.6 564.8 L446.2 565.2 L447.7 565.3 L449.2 565.7 L450.8 566.2 L452.3 566.3 L453.8 566.7 L455.4 566.8 L456.9 567.4 L458.5 567.6 L460.0 568.0 L461.5 568.4 L463.1 568.6 L464.6 568.9 L466.1 569.2 L467.7 569.5 L469.2 569.8 L470.8 570.1 L472.3 570.2 L473.9 568.9 L475.6 567.5 L477.2 566.0 L478.8 564.5 L480.3 564.6 L481.9 564.9 L483.4 565.1 L485.0 565.3 L486.5 565.3 L488.1 565.4 L489.6 565.5 L491.2 565.7 L492.7 565.8 L494.3 566.0 L495.8 566.4 L497.4 566.5 L498.9 566.6 L500.5 566.7 L502.0 566.8 L503.6 566.9 L505.1 567.0 L506.6 567.3 L508.2 567.9 L509.7 568.0 L511.2 568.6 L512.8 568.6 L514.3 569.0 L515.8 569.3 L517.4 569.5 L518.9 569.9 L520.4 570.1 L522.0 570.6 L523.5 570.9 L525.0 570.6 L526.5 570.4 L528.1 570.2 L529.6 569.8 L531.1 569.5 L532.6 569.3 L534.1 569.1 L535.7 568.8 L537.2 568.5 L538.7 568.2 L540.2 568.2 L541.8 568.1 L543.3 567.7 L544.8 567.5 L546.3 567.3 L547.8 566.8 L549.4 566.7 L550.9 566.6 L552.4 566.1 L553.9 566.3 L555.5 566.4 L557.0 566.9 L558.5 566.8 L560.0 567.0 L561.6 567.2 L563.1 567.4 L564.6 567.4 L566.2 567.5 L567.7 567.7 L569.2 567.9 L570.8 568.1 L572.3 568.3 L573.8 568.5 L575.3 568.5 L576.9 568.7 L578.4 568.8 L579.9 568.7 L581.5 569.2 L583.0 569.4 L584.5 569.6 L586.1 569.5 L587.6 569.6 L589.1 569.9 L590.6 570.2 L592.2 570.4 L593.7 570.7 L595.2 570.6 L596.8 570.6 L598.3 571.0 L599.8 570.7 L601.3 570.6 L602.9 570.2 L604.4 570.1 L605.9 569.9 L607.4 570.0 L609.0 569.5 L610.5 569.3 L612.0 569.2 L613.5 569.1 L615.1 568.6 L616.6 568.6 L618.1 568.5 L619.6 568.3 L621.2 568.0 L622.7 568.0 L624.2 567.7 L625.7 567.6 L627.3 567.1 L628.8 567.1 L630.3 566.9 L631.8 566.6 L633.4 566.5 L634.9 566.3 L636.4 565.9 L638.0 568.6 L639.6 568.9 L641.1 569.1 L642.7 569.2 L644.2 569.1 L645.8 569.2 L647.4 569.5 L648.9 569.8 L650.5 569.8 L652.0 570.1 L653.6 570.1 L655.2 570.3 L656.7 570.3 L658.3 570.4 L659.8 570.5 L661.4 570.5 L663.0 570.5 L664.5 570.8 L666.1 570.7 L667.6 570.7 L669.2 571.1" fill="none" stroke="#7E2F8E" stroke-width="2.00" stroke-linejoin="round" stroke-linecap="round" clip-path="url(#ce)"/>
<path d="M67.9 571.2 L69.9 568.0 L72.5 569.3 L72.5 569.2 L74.5 567.8 L76.5 566.3 L79.0 565.6 L80.6 565.8 L82.2 566.1 L83.8 566.2 L85.4 566.3 L87.0 566.5 L88.6 566.5 L90.2 566.5 L91.8 566.8 L93.4 567.2 L95.0 567.0 L96.6 567.3 L98.2 567.2 L99.8 567.3 L101.4 567.7 L102.9 567.7 L104.5 568.0 L106.0 568.1 L107.6 568.3 L109.1 568.4 L110.7 568.4 L112.2 568.7 L113.7 568.8 L115.3 568.8 L116.8 568.8 L118.4 569.0 L119.9 569.1 L121.5 569.4 L123.0 569.3 L124.6 569.6 L126.1 569.6 L127.6 569.7 L129.2 569.9 L130.7 570.0 L132.3 570.3 L133.8 570.3 L135.4 570.3 L136.9 570.5 L138.4 570.4 L139.9 570.6 L141.4 570.5 L142.9 570.3 L144.4 570.4 L146.0 570.3 L147.5 570.2 L149.0 570.2 L150.5 570.3 L152.0 570.0 L153.6 569.8 L155.2 569.2 L156.9 569.0 L158.5 568.5 L160.1 568.0 L161.8 567.8 L163.4 567.2 L165.0 566.7 L166.6 566.4 L168.1 566.1 L169.7 565.5 L171.2 565.3 L172.8 564.9 L174.3 564.7 L175.9 564.2 L177.4 564.0 L179.0 563.6 L180.5 563.4 L182.1 563.0 L183.6 562.5 L185.2 562.0 L186.7 561.7 L188.3 561.2 L189.8 560.7 L191.4 560.4 L192.9 560.2 L194.4 559.7 L195.9 559.6 L197.4 559.3 L199.0 558.9 L200.5 558.5 L202.0 558.1 L203.5 557.9 L205.0 557.3 L206.6 557.1 L208.2 556.7 L209.7 556.4 L211.3 556.1 L212.9 555.5 L214.4 555.0 L216.0 554.7 L217.6 554.3 L219.5 552.2 L222.1 557.5 L223.9 558.1 L225.8 558.7 L227.7 559.1 L229.5 559.6 L231.0 560.1 L232.5 560.5 L234.0 560.8 L235.5 561.3 L237.1 561.6 L238.6 562.3 L240.1 562.7 L241.6 563.1 L243.1 563.7 L244.6 564.1 L246.2 564.5 L247.7 564.8 L249.3 565.3 L250.8 565.8 L252.3 566.1 L253.9 566.5 L255.4 567.0 L256.9 567.4 L258.5 567.7 L260.0 568.1 L261.6 568.4 L263.1 568.9 L264.6 569.2 L266.2 569.7 L267.7 570.1 L269.3 570.3 L270.8 570.9 L272.4 569.6 L274.1 568.6 L275.8 567.6 L277.4 566.8 L279.1 565.8 L280.7 564.8 L282.4 563.8 L284.0 562.7 L285.6 562.5 L287.1 561.9 L288.7 561.7 L290.3 561.1 L291.9 560.7 L293.4 560.5 L295.0 560.0 L296.5 560.2 L298.0 560.3 L299.5 560.7 L301.0 560.8 L302.5 561.0 L304.0 561.3 L305.5 561.4 L307.2 563.3 L309.0 565.2 L310.8 566.8 L312.5 568.9 L314.3 561.8 L315.8 561.1 L317.3 560.4 L318.8 559.9 L320.3 559.4 L321.8 558.7 L323.3 558.3 L324.8 557.5 L326.3 556.7 L327.8 556.4 L329.3 555.8 L330.8 555.3 L332.3 554.7 L333.8 554.2 L335.3 553.4 L337.0 546.1 L338.5 553.3 L340.4 556.5 L342.3 559.5 L344.1 553.8 L345.8 547.9 L346.7 570.7 L348.3 570.8 L349.8 570.8 L351.4 570.6 L353.0 570.7 L354.5 570.8 L356.1 570.6 L357.6 570.8 L359.2 570.6 L360.8 570.8 L362.3 571.0 L363.9 570.7 L365.5 570.7 L367.0 570.7 L368.6 570.6 L370.2 570.2 L371.7 569.7 L373.3 569.2 L374.8 568.7 L376.4 568.3 L377.9 567.8 L379.5 567.3 L381.0 566.7 L382.6 566.3 L384.5 565.6 L386.3 565.0 L388.1 564.0 L390.0 563.1 L391.9 560.8 L393.7 558.4 L395.5 557.7 L397.4 556.9 L398.9 556.6 L400.4 556.5 L401.9 556.4 L403.5 556.6 L405.0 556.4 L406.5 556.3 L408.0 555.9 L409.0 555.1 L410.7 556.5 L412.4 557.5 L414.1 558.9 L415.8 560.0 L417.3 560.2 L418.8 560.6 L420.3 560.8 L421.9 561.1 L423.4 561.3 L424.9 561.5 L426.4 561.7 L427.9 561.9 L429.4 562.2 L430.9 562.6 L432.4 562.9 L433.9 563.3 L435.5 563.5 L437.0 563.9 L438.5 564.0 L440.0 564.4 L441.5 564.7 L443.1 564.7 L444.6 565.2 L446.2 565.2 L447.7 565.6 L449.2 565.9 L450.8 566.2 L452.3 566.3 L453.8 566.7 L455.4 566.9 L456.9 567.3 L458.5 567.6 L460.0 568.1 L461.5 568.1 L463.1 568.6 L464.6 568.7 L466.1 569.0 L467.7 569.3 L469.2 569.4 L470.8 569.9 L472.3 570.2 L473.9 568.8 L475.6 567.6 L477.2 566.2 L478.8 565.0 L480.3 564.9 L481.9 565.1 L483.4 565.1 L485.0 565.4 L486.5 565.5 L488.1 565.6 L489.6 565.9 L491.2 566.0 L492.7 566.1 L494.3 566.3 L495.8 566.5 L497.4 566.7 L498.9 566.6 L500.5 566.7 L502.0 566.9 L503.6 567.0 L505.1 567.0 L506.6 567.3 L508.2 567.6 L509.7 568.1 L511.2 568.6 L512.8 568.9 L514.3 569.2 L515.8 569.5 L517.4 569.9 L518.9 570.2 L520.4 570.2 L522.0 570.7 L523.5 571.0 L525.0 570.9 L526.5 570.4 L528.1 570.2 L529.6 570.1 L531.1 569.8 L532.6 569.5 L534.1 569.2 L535.7 568.8 L537.2 568.7 L538.7 568.4 L540.2 568.3 L541.8 568.1 L543.3 567.8 L544.8 567.5 L546.3 567.1 L547.8 566.8 L549.4 566.6 L550.9 566.5 L552.4 566.3 L553.9 566.5 L555.5 566.6 L557.0 567.0 L558.5 567.0 L560.0 567.1 L561.6 567.0 L563.1 567.3 L564.6 567.4 L566.2 567.6 L567.7 567.9 L569.2 567.9 L570.8 568.0 L572.3 568.2 L573.8 568.3 L575.3 568.6 L576.9 568.6 L578.4 568.9 L579.9 568.9 L581.5 569.1 L583.0 569.3 L584.5 569.5 L586.1 569.7 L587.6 569.9 L589.1 570.0 L590.6 570.1 L592.2 570.3 L593.7 570.6 L595.2 570.7 L596.8 570.8 L598.3 571.1 L599.8 570.8 L601.3 570.5 L602.9 570.4 L604.4 570.0 L605.9 569.9 L607.4 569.8 L609.0 569.5 L610.5 569.2 L612.0 569.2 L613.5 569.0 L615.1 568.8 L616.6 568.7 L618.1 568.6 L619.6 568.5 L621.2 568.1 L622.7 567.9 L624.2 567.7 L625.7 567.6 L627.3 567.5 L628.8 567.2 L630.3 567.2 L631.8 566.9 L633.4 566.8 L634.9 566.5 L636.4 566.2 L638.0 568.8 L639.6 568.8 L641.1 569.0 L642.7 569.3 L644.2 569.5 L645.8 569.5 L647.4 569.7 L648.9 569.6 L650.5 569.8 L652.0 570.2 L653.6 570.0 L655.2 570.1 L656.7 570.2 L658.3 570.3 L659.8 570.6 L661.4 570.7 L663.0 570.7 L664.5 570.6 L666.1 571.0 L667.6 570.8 L669.2 570.8" fill="none" stroke="#77AC30" stroke-width="2.00" stroke-linejoin="round" stroke-linecap="round" clip-path="url(#ce)"/>
<path d="M67.9 571.2 L69.9 563.4 L72.5 569.3 L72.5 569.3 L74.5 567.8 L76.5 566.4 L79.0 565.8 L80.6 566.1 L82.2 566.1 L83.8 566.3 L85.4 566.4 L87.0 566.7 L88.6 566.7 L90.2 567.0 L91.8 566.9 L93.4 567.2 L95.0 567.2 L96.6 567.4 L98.2 567.6 L99.8 567.7 L101.4 567.9 L102.9 568.0 L104.5 568.1 L106.0 568.3 L107.6 568.4 L109.1 568.3 L110.7 568.5 L112.2 568.7 L113.7 568.7 L115.3 568.8 L116.8 569.0 L118.4 569.1 L119.9 569.2 L121.5 569.3 L123.0 569.4 L124.6 569.6 L126.1 569.6 L127.6 569.8 L129.2 569.9 L130.7 570.1 L132.3 570.2 L133.8 570.4 L135.4 570.4 L136.9 570.7 L138.4 570.5 L139.9 570.6 L141.4 570.4 L142.9 570.4 L144.4 570.3 L146.0 570.3 L147.5 570.4 L149.0 570.4 L150.5 570.3 L152.0 570.3 L153.6 569.8 L155.2 569.5 L156.9 569.0 L158.5 568.6 L160.1 568.3 L161.8 567.9 L163.4 567.5 L165.0 567.1 L166.6 566.8 L168.1 566.3 L169.7 566.0 L171.2 565.6 L172.8 565.3 L174.3 565.0 L175.9 564.7 L177.4 564.3 L179.0 563.9 L180.5 563.6 L182.1 563.3 L183.6 562.9 L185.2 562.3 L186.7 562.0 L188.3 561.7 L189.8 561.3 L191.4 561.0 L192.9 560.7 L194.4 560.3 L195.9 560.0 L197.4 559.7 L199.0 559.4 L200.5 559.1 L202.0 558.7 L203.5 558.5 L205.0 558.0 L206.6 557.7 L208.2 557.4 L209.7 556.8 L211.3 556.4 L212.9 556.1 L214.4 555.7 L216.0 555.4 L217.6 555.0 L219.5 553.1 L222.1 558.1 L223.9 558.5 L225.8 559.0 L227.7 559.5 L229.5 560.1 L231.0 560.4 L232.5 561.0 L234.0 561.3 L235.5 561.9 L237.1 562.3 L238.6 562.7 L240.1 563.1 L241.6 563.6 L243.1 564.1 L244.6 564.3 L246.2 564.7 L247.7 565.1 L249.3 565.5 L250.8 565.8 L252.3 566.2 L253.9 566.7 L255.4 567.0 L256.9 567.5 L258.5 567.9 L260.0 568.3 L261.6 568.6 L263.1 568.9 L264.6 569.2 L266.2 569.6 L267.7 570.2 L269.3 570.4 L270.8 570.9 L272.4 569.9 L274.1 568.9 L275.8 567.9 L277.4 567.0 L279.1 566.0 L280.7 564.9 L282.4 564.0 L284.0 562.9 L285.6 562.5 L287.1 562.2 L288.7 561.8 L290.3 561.5 L291.9 561.1 L293.4 560.9 L295.0 560.5 L296.5 560.7 L298.0 560.9 L299.5 561.2 L301.0 561.3 L302.5 561.6 L304.0 561.7 L305.5 562.0 L307.2 563.8 L309.0 565.5 L310.8 567.1 L312.5 569.0 L314.3 562.0 L315.8 561.6 L317.3 560.9 L318.8 560.3 L320.3 559.6 L321.8 559.1 L323.3 558.5 L324.8 557.9 L326.3 557.4 L327.8 556.8 L329.3 556.2 L330.8 555.7 L332.3 555.2 L333.8 554.6 L335.3 554.0 L337.0 547.1 L338.5 554.1 L340.4 557.1 L342.3 560.1 L344.1 554.7 L345.8 549.1 L346.7 570.8 L348.3 570.9 L349.8 570.8 L351.4 570.8 L353.0 570.8 L354.5 570.8 L356.1 570.8 L357.6 570.8 L359.2 570.8 L360.8 570.8 L362.3 570.7 L363.9 570.8 L365.5 570.8 L367.0 570.8 L368.6 570.9 L370.2 570.5 L371.7 569.9 L373.3 569.5 L374.8 569.0 L376.4 568.6 L377.9 568.1 L379.5 567.5 L381.0 567.0 L382.6 566.7 L384.5 565.8 L386.3 565.0 L388.1 564.4 L390.0 563.6 L391.9 561.3 L393.7 559.1 L395.5 558.4 L397.4 557.6 L398.9 557.5 L400.4 557.3 L401.9 557.1 L403.5 557.0 L405.0 556.9 L406.5 556.9 L408.0 556.8 L409.0 555.8 L410.7 557.0 L412.4 558.1 L414.1 559.1 L415.8 560.4 L417.3 560.6 L418.8 561.0 L420.3 561.1 L421.9 561.4 L423.4 561.7 L424.9 561.9 L426.4 562.1 L427.9 562.3 L429.4 562.6 L430.9 562.9 L432.4 563.2 L433.9 563.6 L435.5 563.8 L437.0 564.1 L438.5 564.4 L440.0 564.6 L441.5 564.9 L443.1 565.0 L444.6 565.4 L446.2 565.5 L447.7 565.9 L449.2 566.2 L450.8 566.5 L452.3 566.8 L453.8 567.0 L455.4 567.4 L456.9 567.6 L458.5 567.8 L460.0 568.1 L461.5 568.3 L463.1 568.6 L464.6 568.9 L466.1 569.1 L467.7 569.5 L469.2 569.6 L470.8 570.0 L472.3 570.4 L473.9 569.1 L475.6 567.7 L477.2 566.4 L478.8 565.0 L480.3 565.2 L481.9 565.3 L483.4 565.5 L485.0 565.6 L486.5 565.7 L488.1 566.0 L489.6 566.0 L491.2 566.1 L492.7 566.3 L494.3 566.5 L495.8 566.5 L497.4 566.6 L498.9 566.7 L500.5 566.9 L502.0 567.0 L503.6 567.2 L505.1 567.4 L506.6 567.7 L508.2 567.8 L509.7 568.1 L511.2 568.5 L512.8 568.7 L514.3 569.1 L515.8 569.4 L517.4 569.7 L518.9 570.1 L520.4 570.3 L522.0 570.5 L523.5 570.8 L525.0 570.5 L526.5 570.3 L528.1 570.2 L529.6 570.0 L531.1 569.7 L532.6 569.5 L534.1 569.3 L535.7 569.2 L537.2 569.0 L538.7 568.7 L540.2 568.4 L541.8 568.2 L543.3 567.9 L544.8 567.7 L546.3 567.5 L547.8 567.2 L549.4 566.9 L550.9 566.7 L552.4 566.6 L553.9 566.6 L555.5 566.8 L557.0 566.9 L558.5 567.1 L560.0 567.2 L561.6 567.4 L563.1 567.6 L564.6 567.7 L566.2 567.9 L567.7 568.0 L569.2 568.2 L570.8 568.2 L572.3 568.3 L573.8 568.6 L575.3 568.7 L576.9 568.9 L578.4 569.0 L579.9 569.1 L581.5 569.3 L583.0 569.5 L584.5 569.7 L586.1 569.8 L587.6 569.9 L589.1 570.0 L590.6 570.1 L592.2 570.3 L593.7 570.4 L595.2 570.6 L596.8 570.7 L598.3 570.9 L599.8 570.7 L601.3 570.5 L602.9 570.4 L604.4 570.2 L605.9 570.0 L607.4 569.8 L609.0 569.5 L610.5 569.3 L612.0 569.4 L613.5 569.0 L615.1 568.9 L616.6 568.8 L618.1 568.7 L619.6 568.4 L621.2 568.1 L622.7 568.0 L624.2 567.8 L625.7 567.6 L627.3 567.5 L628.8 567.3 L630.3 567.0 L631.8 566.9 L633.4 566.8 L634.9 566.6 L636.4 566.5 L638.0 568.9 L639.6 569.1 L641.1 569.3 L642.7 569.3 L644.2 569.4 L645.8 569.5 L647.4 569.7 L648.9 569.7 L650.5 569.9 L652.0 570.1 L653.6 570.1 L655.2 570.2 L656.7 570.2 L658.3 570.4 L659.8 570.4 L661.4 570.4 L663.0 570.5 L664.5 570.6 L666.1 570.8 L667.6 570.9 L669.2 570.9" fill="none" stroke="#4DBEEE" stroke-width="2.00" stroke-linejoin="round" stroke-linecap="round" clip-path="url(#ce)"/>
<path d="M67.0 697.8 L68.6 697.4 L70.3 697.6 L71.9 697.1 L73.6 695.8 L75.2 695.4 L76.8 692.6 L78.5 692.5 L80.1 692.3 L81.8 691.2 L83.4 691.1 L85.0 691.2 L86.6 690.3 L88.2 688.6 L89.9 686.0 L91.5 682.8 L93.1 684.1 L94.7 683.3 L96.3 684.1 L97.9 683.7 L99.6 682.2 L101.2 682.3 L102.8 680.3 L104.4 679.0 L106.7 674.8 L109.0 670.1 L111.3 667.1 L113.7 664.6 L115.3 664.6 L117.0 663.0 L118.6 661.3 L120.2 662.9 L121.8 663.7 L123.5 663.5 L125.1 663.0 L126.7 661.5 L128.4 661.9 L130.0 661.7 L131.8 660.9 L133.5 661.4 L135.2 660.9 L137.0 656.9 L138.8 656.7 L140.5 658.4 L142.2 657.2 L144.0 658.5 L146.2 656.1 L148.3 654.0 L150.0 655.7 L151.7 659.1 L153.4 660.7 L155.1 664.5 L156.7 666.9 L158.4 670.1 L160.0 672.3 L161.7 676.2 L163.3 675.6 L165.0 680.5 L166.8 682.9 L168.6 685.8 L170.3 687.5 L172.1 691.7 L173.8 691.4 L175.6 692.5 L177.3 692.8 L179.1 692.7 L180.8 694.2 L182.5 694.3 L184.3 697.6 L186.0 697.2 L187.7 697.8 L189.4 695.9 L191.0 698.9 L192.7 698.5 L194.4 702.0 L196.1 701.2 L197.8 702.9 L199.5 704.5 L201.1 704.8 L202.8 704.0 L204.5 706.7 L206.2 707.7 L207.9 706.9 L209.6 709.2 L211.2 707.9 L212.9 709.1 L214.6 710.9" fill="none" stroke="#D95319" stroke-width="1.90" stroke-linejoin="round" stroke-linecap="round" clip-path="url(#cf)"/>
<path d="M67.0 700.6 L68.6 700.4 L70.3 699.3 L71.9 698.2 L73.6 697.4 L75.2 696.0 L76.8 695.2 L78.5 695.1 L80.1 695.1 L81.8 694.4 L83.4 692.8 L85.0 691.2 L86.6 691.4 L88.2 688.0 L89.9 689.2 L91.5 687.6 L93.1 687.1 L94.7 686.4 L96.3 685.5 L97.9 685.5 L99.6 684.9 L101.2 683.9 L102.8 682.8 L104.4 681.2 L106.7 676.6 L109.0 670.3 L111.3 669.9 L113.7 669.3 L115.3 668.7 L117.0 669.2 L118.6 669.7 L120.2 669.5 L121.8 669.1 L123.5 669.8 L125.1 669.0 L126.7 668.4 L128.4 667.8 L130.0 667.6 L131.8 667.9 L133.5 667.9 L135.2 668.3 L137.0 668.0 L138.8 667.2 L140.5 666.9 L142.2 666.5 L144.0 666.6 L146.2 664.0 L148.3 661.7 L150.0 664.7 L151.7 668.1 L153.4 670.4 L155.1 673.7 L156.7 674.7 L158.4 677.6 L160.0 679.8 L161.7 683.3 L163.3 686.1 L165.0 688.3 L166.8 690.0 L168.6 692.4 L170.3 694.6 L172.1 695.7 L173.8 696.2 L175.6 697.8 L177.3 699.3 L179.1 700.3 L180.8 701.3 L182.5 702.3 L184.3 703.0 L186.0 705.2 L187.7 705.3 L189.4 705.0 L191.0 706.7 L192.7 707.0 L194.4 707.4 L196.1 707.9 L197.8 708.8 L199.5 709.6 L201.1 710.5 L202.8 710.4 L204.5 711.8 L206.2 712.8 L207.9 712.5 L209.6 713.2 L211.2 713.7 L212.9 714.9 L214.6 714.7" fill="none" stroke="#EDB120" stroke-width="1.90" stroke-linejoin="round" stroke-linecap="round" clip-path="url(#cf)"/>
<path d="M67.0 708.8 L68.6 708.5 L70.3 707.6 L71.9 704.6 L73.6 704.7 L75.2 703.3 L76.8 701.8 L78.5 701.9 L80.1 701.7 L81.8 700.8 L83.4 699.3 L85.0 699.5 L86.6 697.9 L88.2 693.5 L89.9 696.4 L91.5 695.8 L93.1 694.5 L94.7 693.9 L96.3 693.7 L97.9 693.4 L99.6 692.8 L101.2 687.8 L102.8 690.1 L104.4 688.7 L106.7 686.3 L109.0 681.6 L111.3 683.7 L113.7 682.9 L115.3 682.6 L117.0 681.3 L118.6 681.3 L120.2 682.2 L121.8 681.3 L123.5 679.7 L125.1 680.8 L126.7 680.1 L128.4 680.5 L130.0 677.7 L131.8 678.8 L133.5 676.3 L135.2 678.4 L137.0 679.9 L138.8 680.2 L140.5 679.2 L142.2 678.3 L144.0 677.2 L146.2 675.2 L148.3 673.2 L150.0 674.2 L151.7 676.9 L153.4 676.0 L155.1 682.3 L156.7 685.6 L158.4 688.7 L160.0 691.5 L161.7 693.8 L163.3 695.9 L165.0 698.5 L166.8 701.4 L168.6 704.1 L170.3 705.6 L172.1 707.2 L173.8 708.5 L175.6 707.6 L177.3 707.9 L179.1 707.3 L180.8 707.2 L182.5 710.3 L184.3 709.3 L186.0 710.4 L187.7 711.6 L189.4 712.9 L191.0 709.8 L192.7 713.2 L194.4 714.3 L196.1 713.8 L197.8 713.4 L199.5 715.5 L201.1 713.2 L202.8 716.9 L204.5 717.6 L206.2 715.0 L207.9 718.3 L209.6 720.0 L211.2 715.7 L212.9 720.5 L214.6 720.2" fill="none" stroke="#7E2F8E" stroke-width="1.90" stroke-linejoin="round" stroke-linecap="round" clip-path="url(#cf)"/>
<path d="M67.0 710.2 L68.6 710.3 L70.3 708.7 L71.9 709.0 L73.6 707.2 L75.2 706.1 L76.8 702.7 L78.5 704.1 L80.1 702.3 L81.8 702.1 L83.4 701.9 L85.0 702.7 L86.6 702.0 L88.2 699.7 L89.9 698.6 L91.5 698.6 L93.1 696.9 L94.7 696.4 L96.3 693.5 L97.9 691.9 L99.6 694.0 L101.2 693.5 L102.8 693.6 L104.4 689.8 L106.7 689.0 L109.0 684.3 L111.3 685.1 L113.7 684.2 L115.3 685.0 L117.0 685.3 L118.6 682.3 L120.2 682.0 L121.8 682.2 L123.5 682.8 L125.1 680.7 L126.7 682.6 L128.4 682.7 L130.0 679.9 L131.8 679.9 L133.5 679.4 L135.2 681.6 L137.0 679.4 L138.8 681.7 L140.5 680.9 L142.2 680.4 L144.0 678.7 L146.2 678.0 L148.3 675.5 L150.0 675.8 L151.7 679.9 L153.4 683.9 L155.1 686.8 L156.7 689.7 L158.4 691.0 L160.0 694.0 L161.7 695.1 L163.3 695.3 L165.0 700.2 L166.8 701.8 L168.6 704.1 L170.3 703.3 L172.1 707.5 L173.8 710.1 L175.6 707.5 L177.3 708.0 L179.1 709.5 L180.8 711.3 L182.5 711.7 L184.3 711.9 L186.0 714.1 L187.7 715.0 L189.4 715.3 L191.0 715.4 L192.7 715.3 L194.4 714.3 L196.1 716.4 L197.8 717.4 L199.5 717.4 L201.1 716.1 L202.8 716.1 L204.5 718.8 L206.2 717.9 L207.9 717.8 L209.6 719.8 L211.2 719.2 L212.9 720.0 L214.6 722.2" fill="none" stroke="#77AC30" stroke-width="1.90" stroke-linejoin="round" stroke-linecap="round" clip-path="url(#cf)"/>
<path d="M67.0 712.6 L68.6 712.3 L70.3 710.7 L71.9 711.0 L73.6 709.6 L75.2 708.9 L76.8 707.8 L78.5 707.7 L80.1 705.9 L81.8 705.6 L83.4 704.7 L85.0 704.0 L86.6 702.5 L88.2 702.3 L89.9 701.4 L91.5 700.9 L93.1 699.8 L94.7 699.5 L96.3 698.7 L97.9 697.2 L99.6 696.4 L101.2 694.9 L102.8 694.2 L104.4 694.7 L106.7 691.0 L109.0 688.3 L111.3 687.5 L113.7 687.7 L115.3 686.9 L117.0 686.6 L118.6 686.7 L120.2 686.4 L121.8 685.8 L123.5 686.1 L125.1 686.0 L126.7 685.8 L128.4 685.9 L130.0 685.2 L131.8 684.9 L133.5 685.2 L135.2 684.6 L137.0 684.2 L138.8 684.7 L140.5 684.8 L142.2 685.4 L144.0 685.5 L146.2 682.0 L148.3 679.2 L150.0 682.3 L151.7 685.5 L153.4 688.5 L155.1 689.9 L156.7 692.5 L158.4 694.8 L160.0 697.6 L161.7 700.5 L163.3 702.0 L165.0 703.2 L166.8 704.8 L168.6 706.2 L170.3 707.2 L172.1 710.4 L173.8 710.8 L175.6 712.1 L177.3 712.7 L179.1 712.5 L180.8 713.8 L182.5 714.8 L184.3 715.5 L186.0 717.1 L187.7 716.6 L189.4 717.9 L191.0 717.9 L192.7 717.6 L194.4 718.8 L196.1 718.6 L197.8 719.9 L199.5 720.0 L201.1 720.0 L202.8 719.8 L204.5 720.4 L206.2 719.2 L207.9 722.1 L209.6 722.7 L211.2 723.7 L212.9 724.2 L214.6 724.2" fill="none" stroke="#4DBEEE" stroke-width="1.90" stroke-linejoin="round" stroke-linecap="round" clip-path="url(#cf)"/>
<path d="M294.5 699.9 L296.2 699.6 L297.9 699.1 L299.6 698.4 L301.3 697.8 L302.9 697.2 L304.6 697.4 L306.3 696.7 L308.0 695.9 L309.7 695.8 L311.4 695.6 L313.1 695.4 L314.9 695.3 L316.6 694.9 L318.4 695.1 L320.1 694.7 L321.9 694.3 L323.6 693.9 L325.4 695.2 L327.3 696.4 L329.3 698.3 L331.2 700.6 L332.8 701.9 L334.4 703.7 L336.0 704.9 L337.6 706.3 L339.2 708.5 L340.8 709.9 L342.4 711.8 L344.0 712.6 L345.8 714.9 L347.5 717.8 L349.2 719.6 L351.0 721.6 L352.8 723.6 L354.5 724.9 L356.2 727.0 L358.0 729.1 L359.7 731.9 L361.4 734.8 L363.1 737.4 L364.7 740.4 L366.4 744.8 L368.1 747.0 L369.8 750.1 L371.7 740.5 L373.7 731.1 L375.6 721.6 L377.5 719.6 L379.5 716.9 L381.4 714.2 L383.1 712.2 L384.7 711.4 L386.4 711.0 L388.1 709.2 L389.8 709.1 L391.4 707.6 L393.1 707.3 L394.8 706.9 L396.4 706.1 L398.1 704.5 L399.8 703.7 L401.5 702.9 L403.1 702.5 L404.8 701.3 L406.5 700.3 L408.1 699.9 L409.8 698.3 L411.5 697.7 L413.2 696.6 L414.8 695.2 L416.5 694.2 L418.2 693.2 L419.8 692.6 L421.5 691.3 L423.2 691.1 L424.9 689.5 L426.5 688.6 L428.2 687.5 L429.9 686.7 L431.7 685.7 L433.4 684.6 L435.2 683.9 L436.9 682.9 L438.7 682.4 L440.4 681.0 L442.2 679.9" fill="none" stroke="#D95319" stroke-width="1.90" stroke-linejoin="round" stroke-linecap="round" clip-path="url(#cg)"/>
<path d="M294.5 707.2 L296.2 707.4 L297.9 707.3 L299.6 706.4 L301.3 706.1 L302.9 705.9 L304.6 705.3 L306.3 705.5 L308.0 704.9 L309.7 704.0 L311.4 703.8 L313.1 704.3 L314.9 704.7 L316.6 704.5 L318.4 704.9 L320.1 704.6 L321.9 704.7 L323.6 704.6 L325.4 704.6 L327.3 705.3 L329.3 706.7 L331.2 709.6 L332.8 710.6 L334.4 712.1 L336.0 712.4 L337.6 713.7 L339.2 714.7 L340.8 716.3 L342.4 716.3 L344.0 717.7 L345.8 719.8 L347.5 721.8 L349.2 723.6 L351.0 725.7 L352.8 727.6 L354.5 730.1 L356.2 732.3 L358.0 733.8 L359.7 735.4 L361.4 739.1 L363.1 740.7 L364.7 743.2 L366.4 745.6 L368.1 747.5 L369.8 750.8 L371.7 741.2 L373.7 732.8 L375.6 724.2 L377.5 721.4 L379.5 720.4 L381.4 717.8 L383.1 717.7 L384.7 716.3 L386.4 716.1 L388.1 714.9 L389.8 714.9 L391.4 713.7 L393.1 712.5 L394.8 711.3 L396.4 711.4 L398.1 709.4 L399.8 709.2 L401.5 708.3 L403.1 708.0 L404.8 707.3 L406.5 706.5 L408.1 706.2 L409.8 705.4 L411.5 704.6 L413.2 703.6 L414.8 702.2 L416.5 701.2 L418.2 699.9 L419.8 699.2 L421.5 698.6 L423.2 698.1 L424.9 697.5 L426.5 696.4 L428.2 695.4 L429.9 695.1 L431.7 693.5 L433.4 692.6 L435.2 691.5 L436.9 691.1 L438.7 689.8 L440.4 689.8 L442.2 689.0" fill="none" stroke="#EDB120" stroke-width="1.90" stroke-linejoin="round" stroke-linecap="round" clip-path="url(#cg)"/>
<path d="M294.5 708.3 L296.2 708.7 L297.9 708.0 L299.6 706.9 L301.3 706.8 L302.9 707.2 L304.6 706.9 L306.3 706.8 L308.0 706.5 L309.7 707.1 L311.4 706.9 L313.1 706.2 L314.9 706.1 L316.6 705.7 L318.4 706.0 L320.1 705.9 L321.9 706.2 L323.6 706.8 L325.4 706.8 L327.3 707.7 L329.3 709.1 L331.2 710.4 L332.8 712.8 L334.4 713.7 L336.0 714.1 L337.6 716.3 L339.2 717.1 L340.8 718.0 L342.4 719.0 L344.0 720.0 L345.8 721.3 L347.5 724.0 L349.2 725.8 L351.0 727.6 L352.8 728.8 L354.5 730.5 L356.2 732.7 L358.0 734.4 L359.7 737.3 L361.4 739.7 L363.1 741.7 L364.7 744.6 L366.4 747.1 L368.1 749.9 L369.8 751.8 L371.7 743.0 L373.7 734.1 L375.6 726.3 L377.5 724.1 L379.5 722.1 L381.4 719.3 L383.1 719.1 L384.7 718.8 L386.4 717.7 L388.1 717.2 L389.8 716.5 L391.4 714.9 L393.1 714.5 L394.8 714.3 L396.4 713.6 L398.1 713.0 L399.8 711.9 L401.5 710.8 L403.1 710.3 L404.8 709.0 L406.5 708.3 L408.1 707.6 L409.8 706.0 L411.5 706.2 L413.2 704.8 L414.8 703.9 L416.5 703.5 L418.2 703.2 L419.8 701.5 L421.5 701.3 L423.2 700.5 L424.9 699.1 L426.5 698.3 L428.2 697.9 L429.9 697.2 L431.7 696.2 L433.4 695.1 L435.2 695.0 L436.9 693.8 L438.7 693.2 L440.4 691.8 L442.2 690.9" fill="none" stroke="#7E2F8E" stroke-width="1.90" stroke-linejoin="round" stroke-linecap="round" clip-path="url(#cg)"/>
<path d="M294.5 710.9 L296.2 710.8 L297.9 710.1 L299.6 710.2 L301.3 709.9 L302.9 710.3 L304.6 709.7 L306.3 709.3 L308.0 708.6 L309.7 707.4 L311.4 707.1 L313.1 707.8 L314.9 708.1 L316.6 708.3 L318.4 708.3 L320.1 708.2 L321.9 708.1 L323.6 708.0 L325.4 707.8 L327.3 709.0 L329.3 711.3 L331.2 713.0 L332.8 714.8 L334.4 716.8 L336.0 717.3 L337.6 718.2 L339.2 720.2 L340.8 721.2 L342.4 722.4 L344.0 722.8 L345.8 724.7 L347.5 725.7 L349.2 727.9 L351.0 728.8 L352.8 731.1 L354.5 733.9 L356.2 735.3 L358.0 736.8 L359.7 738.8 L361.4 741.4 L363.1 744.3 L364.7 747.0 L366.4 748.2 L368.1 750.5 L369.8 752.8 L371.7 744.1 L373.7 736.7 L375.6 728.2 L377.5 726.1 L379.5 724.3 L381.4 722.1 L383.1 720.7 L384.7 720.2 L386.4 719.3 L388.1 719.0 L389.8 719.4 L391.4 717.6 L393.1 717.5 L394.8 716.2 L396.4 716.0 L398.1 714.9 L399.8 713.5 L401.5 713.8 L403.1 712.6 L404.8 711.1 L406.5 710.3 L408.1 710.1 L409.8 709.2 L411.5 708.9 L413.2 708.3 L414.8 707.6 L416.5 706.3 L418.2 706.3 L419.8 705.4 L421.5 703.8 L423.2 702.8 L424.9 703.0 L426.5 701.1 L428.2 700.0 L429.9 699.8 L431.7 699.1 L433.4 699.0 L435.2 698.0 L436.9 697.1 L438.7 696.8 L440.4 695.7 L442.2 694.9" fill="none" stroke="#77AC30" stroke-width="1.90" stroke-linejoin="round" stroke-linecap="round" clip-path="url(#cg)"/>
<path d="M294.5 712.9 L296.2 713.3 L297.9 713.1 L299.6 712.6 L301.3 712.4 L302.9 712.2 L304.6 712.4 L306.3 710.9 L308.0 711.6 L309.7 711.8 L311.4 710.6 L313.1 710.8 L314.9 711.0 L316.6 710.8 L318.4 711.1 L320.1 711.5 L321.9 711.4 L323.6 711.0 L325.4 710.6 L327.3 712.6 L329.3 713.8 L331.2 715.5 L332.8 716.4 L334.4 718.8 L336.0 720.4 L337.6 721.3 L339.2 722.1 L340.8 723.8 L342.4 724.3 L344.0 725.3 L345.8 728.0 L347.5 728.3 L349.2 730.6 L351.0 732.7 L352.8 734.9 L354.5 736.8 L356.2 737.5 L358.0 738.8 L359.7 740.7 L361.4 742.5 L363.1 745.2 L364.7 746.8 L366.4 750.1 L368.1 752.5 L369.8 754.2 L371.6 747.3 L373.3 741.4 L375.1 735.1 L376.8 729.8 L379.1 727.2 L381.4 724.1 L383.1 724.7 L384.7 723.9 L386.4 723.3 L388.1 722.9 L389.8 721.4 L391.4 720.5 L393.1 720.1 L394.8 718.7 L396.4 718.2 L398.1 717.4 L399.8 717.6 L401.5 716.4 L403.1 715.4 L404.8 715.9 L406.5 714.9 L408.1 713.7 L409.8 712.5 L411.5 710.9 L413.2 709.9 L414.8 710.2 L416.5 709.0 L418.2 708.1 L419.8 707.6 L421.5 707.1 L423.2 706.5 L424.9 705.0 L426.5 704.1 L428.2 703.5 L429.9 703.1 L431.7 702.0 L433.4 700.0 L435.2 699.6 L436.9 699.8 L438.7 698.4 L440.4 697.9 L442.2 697.0" fill="none" stroke="#4DBEEE" stroke-width="1.90" stroke-linejoin="round" stroke-linecap="round" clip-path="url(#cg)"/>
<path d="M523.6 727.7 L525.2 729.5 L526.9 726.2 L528.5 724.6 L530.2 723.7 L531.8 719.1 L533.5 719.0 L535.1 718.4 L536.8 716.3 L538.4 714.8 L540.1 709.3 L541.9 704.7 L543.6 700.4 L545.4 696.5 L547.1 691.9 L548.9 689.0 L550.6 685.4 L552.4 682.3 L554.3 679.6 L556.1 678.9 L558.0 676.8 L559.8 676.3 L561.7 674.0 L563.4 673.3 L565.0 673.2 L566.7 672.2 L568.4 672.1 L570.1 671.0 L571.7 668.4 L573.4 668.7 L575.1 669.8 L576.7 669.1 L578.4 668.3 L580.0 668.7 L581.7 668.6 L583.3 667.6 L585.0 668.0 L586.8 667.7 L588.5 668.1 L590.2 669.0 L592.0 669.1 L593.8 668.4 L595.5 667.6 L597.2 667.7 L599.0 666.3 L601.1 666.5 L603.3 665.2 L605.0 665.5 L606.7 667.8 L608.4 669.5 L610.1 670.8 L611.7 671.8 L613.4 674.1 L615.0 676.3 L616.7 678.3 L618.3 681.3 L620.0 682.8 L621.6 684.6 L623.3 685.0 L625.0 684.5 L626.6 688.6 L628.2 689.2 L629.9 691.8 L631.5 692.7 L633.2 694.0 L634.9 696.2 L636.5 696.5 L638.2 696.9 L639.9 697.5 L641.6 698.1 L643.3 699.1 L645.0 696.9 L646.7 700.0 L648.4 700.1 L650.1 701.0 L651.8 701.6 L653.5 701.9 L655.2 702.3 L656.9 701.7 L658.7 703.5 L660.4 703.3 L662.1 703.6 L663.9 702.7 L665.6 704.7 L667.3 704.5 L669.1 704.9 L670.8 704.0" fill="none" stroke="#D95319" stroke-width="1.90" stroke-linejoin="round" stroke-linecap="round" clip-path="url(#ch)"/>
<path d="M523.6 732.1 L525.2 730.3 L526.9 729.3 L528.5 728.3 L530.2 726.1 L531.8 724.0 L533.5 722.0 L535.1 719.8 L536.8 717.9 L538.4 716.7 L540.1 713.0 L541.9 708.4 L543.6 704.0 L545.4 700.9 L547.1 694.2 L548.9 693.3 L550.6 689.3 L552.4 685.7 L554.3 684.7 L556.1 682.7 L558.0 681.1 L559.8 679.3 L561.7 678.1 L563.4 677.4 L565.0 677.1 L566.7 676.2 L568.4 675.9 L570.1 675.2 L571.7 675.3 L573.4 675.4 L575.1 674.4 L576.7 675.2 L578.4 674.6 L580.0 674.8 L581.7 674.3 L583.3 673.8 L585.0 673.0 L586.8 673.5 L588.5 672.9 L590.2 674.2 L592.0 673.3 L593.8 673.7 L595.5 673.7 L597.2 673.6 L599.0 673.3 L601.1 672.1 L603.3 670.0 L605.0 670.4 L606.7 672.3 L608.4 673.3 L610.1 674.8 L611.7 676.7 L613.4 678.3 L615.0 679.5 L616.7 681.1 L618.3 684.0 L620.0 685.3 L621.6 686.9 L623.3 687.9 L625.0 689.3 L626.6 691.1 L628.2 693.1 L629.9 694.8 L631.5 695.6 L633.2 698.2 L634.9 699.2 L636.5 700.6 L638.2 700.5 L639.9 701.8 L641.6 702.1 L643.3 702.5 L645.0 703.0 L646.7 704.0 L648.4 704.3 L650.1 704.7 L651.8 706.5 L653.5 706.5 L655.2 707.1 L656.9 707.4 L658.7 707.8 L660.4 708.6 L662.1 708.1 L663.9 706.7 L665.6 708.1 L667.3 708.2 L669.1 709.1 L670.8 708.5" fill="none" stroke="#EDB120" stroke-width="1.90" stroke-linejoin="round" stroke-linecap="round" clip-path="url(#ch)"/>
<path d="M523.6 734.7 L525.2 733.4 L526.9 731.6 L528.5 728.9 L530.2 728.9 L531.8 728.6 L533.5 726.5 L535.1 725.0 L536.8 723.7 L538.4 722.5 L540.1 717.9 L541.9 710.8 L543.6 708.8 L545.4 703.8 L547.1 700.6 L548.9 697.0 L550.6 691.6 L552.4 689.0 L554.3 688.0 L556.1 688.4 L558.0 687.0 L559.8 684.5 L561.7 686.6 L563.4 683.5 L565.0 684.9 L566.7 685.1 L568.4 684.9 L570.1 683.9 L571.7 682.8 L573.4 684.0 L575.1 682.4 L576.7 681.9 L578.4 681.6 L580.0 682.1 L581.7 681.4 L583.3 681.5 L585.0 681.5 L586.8 682.3 L588.5 682.0 L590.2 681.7 L592.0 680.5 L593.8 680.3 L595.5 681.0 L597.2 679.9 L599.0 680.1 L601.1 680.4 L603.3 679.3 L605.0 680.8 L606.7 682.3 L608.4 683.6 L610.1 684.4 L611.7 686.9 L613.4 690.2 L615.0 690.7 L616.7 693.4 L618.3 694.8 L620.0 697.5 L621.6 697.4 L623.3 699.3 L625.0 698.9 L626.6 699.7 L628.2 700.8 L629.9 702.1 L631.5 703.6 L633.2 704.6 L634.9 703.7 L636.5 707.0 L638.2 706.6 L639.9 706.8 L641.6 708.4 L643.3 708.0 L645.0 709.8 L646.7 709.1 L648.4 710.3 L650.1 711.8 L651.8 710.1 L653.5 713.8 L655.2 712.6 L656.9 714.8 L658.7 714.9 L660.4 714.0 L662.1 715.4 L663.9 716.1 L665.6 716.8 L667.3 716.3 L669.1 717.9 L670.8 717.5" fill="none" stroke="#7E2F8E" stroke-width="1.90" stroke-linejoin="round" stroke-linecap="round" clip-path="url(#ch)"/>
<path d="M523.6 736.5 L525.2 734.1 L526.9 733.4 L528.5 732.4 L530.2 728.2 L531.8 728.5 L533.5 727.5 L535.1 724.7 L536.8 726.0 L538.4 724.2 L540.1 718.9 L541.9 714.1 L543.6 709.9 L545.4 706.0 L547.1 702.4 L548.9 698.9 L550.6 695.3 L552.4 691.4 L554.3 690.8 L556.1 689.8 L558.0 689.2 L559.8 686.1 L561.7 687.1 L563.4 687.4 L565.0 688.0 L566.7 687.7 L568.4 686.3 L570.1 687.0 L571.7 686.1 L573.4 686.7 L575.1 687.1 L576.7 686.6 L578.4 686.5 L580.0 687.2 L581.7 687.3 L583.3 686.4 L585.0 686.2 L586.8 686.1 L588.5 684.6 L590.2 684.8 L592.0 683.7 L593.8 684.7 L595.5 685.8 L597.2 685.0 L599.0 684.0 L601.1 684.2 L603.3 683.1 L605.0 684.4 L606.7 685.5 L608.4 685.9 L610.1 688.2 L611.7 690.6 L613.4 693.3 L615.0 692.7 L616.7 696.8 L618.3 698.8 L620.0 699.4 L621.6 699.8 L623.3 701.0 L625.0 702.4 L626.6 702.2 L628.2 704.3 L629.9 705.2 L631.5 704.2 L633.2 706.3 L634.9 707.2 L636.5 708.0 L638.2 708.3 L639.9 709.2 L641.6 709.8 L643.3 711.5 L645.0 712.3 L646.7 712.7 L648.4 713.2 L650.1 714.2 L651.8 715.2 L653.5 714.4 L655.2 716.3 L656.9 716.3 L658.7 716.5 L660.4 717.7 L662.1 717.6 L663.9 717.9 L665.6 717.4 L667.3 718.8 L669.1 719.6 L670.8 720.4" fill="none" stroke="#77AC30" stroke-width="1.90" stroke-linejoin="round" stroke-linecap="round" clip-path="url(#ch)"/>
<path d="M523.6 737.2 L525.2 736.4 L526.9 734.8 L528.5 733.2 L530.2 731.1 L531.8 730.5 L533.5 727.2 L535.1 727.4 L536.8 725.9 L538.4 724.5 L540.1 719.8 L541.9 714.3 L543.6 710.0 L545.4 705.4 L547.1 702.9 L548.9 700.1 L550.6 698.4 L552.4 694.7 L554.3 695.5 L556.1 693.2 L558.0 692.2 L559.8 692.6 L561.7 691.5 L563.4 691.6 L565.0 691.4 L566.7 691.7 L568.4 691.7 L570.1 691.1 L571.7 691.7 L573.4 691.4 L575.1 691.0 L576.7 690.9 L578.4 691.2 L580.0 690.8 L581.7 689.8 L583.3 689.9 L585.0 690.2 L586.8 691.0 L588.5 690.0 L590.2 690.7 L592.0 691.1 L593.8 691.0 L595.5 691.5 L597.2 690.3 L599.0 691.2 L601.1 688.6 L603.3 687.6 L605.0 688.1 L606.7 689.3 L608.4 690.4 L610.1 691.9 L611.7 694.4 L613.4 695.8 L615.0 697.8 L616.7 698.5 L618.3 700.2 L620.0 702.0 L621.6 703.1 L623.3 703.2 L625.0 704.5 L626.6 705.7 L628.2 707.5 L629.9 707.0 L631.5 708.9 L633.2 709.6 L634.9 710.9 L636.5 712.0 L638.2 712.6 L639.9 712.6 L641.6 712.0 L643.3 713.0 L645.0 712.9 L646.7 714.0 L648.4 714.5 L650.1 715.2 L651.8 716.3 L653.5 717.2 L655.2 717.0 L656.9 717.2 L658.7 718.3 L660.4 719.0 L662.1 718.8 L663.9 719.1 L665.6 719.4 L667.3 720.3 L669.1 720.4 L670.8 720.1" fill="none" stroke="#4DBEEE" stroke-width="1.90" stroke-linejoin="round" stroke-linecap="round" clip-path="url(#ch)"/>
<path d="M67.3 75.4H670.5V185.7H67.3ZM67.3 185.7v-6.0M67.3 75.4v6.0M142.7 185.7v-6.0M142.7 75.4v6.0M218.1 185.7v-6.0M218.1 75.4v6.0M293.5 185.7v-6.0M293.5 75.4v6.0M368.9 185.7v-6.0M368.9 75.4v6.0M444.3 185.7v-6.0M444.3 75.4v6.0M519.7 185.7v-6.0M519.7 75.4v6.0M595.1 185.7v-6.0M595.1 75.4v6.0M670.5 185.7v-6.0M670.5 75.4v6.0M67.3 185.7h6.0M670.5 185.7h-6.0M67.3 148.9h6.0M670.5 148.9h-6.0M67.3 112.2h6.0M670.5 112.2h-6.0M67.3 75.4h6.0M670.5 75.4h-6.0" fill="none" stroke="#555" stroke-width="1.00"/>
<path d="M67.0 268.7H214.6V378.2H67.0ZM67.0 378.2v-2.5M67.0 268.7v2.5M140.8 378.2v-2.5M140.8 268.7v2.5M214.6 378.2v-2.5M214.6 268.7v2.5M67.0 378.2h2.5M214.6 378.2h-2.5M67.0 323.4h2.5M214.6 323.4h-2.5M67.0 268.7h2.5M214.6 268.7h-2.5" fill="none" stroke="#555" stroke-width="1.00"/>
<path d="M294.5 268.7H442.2V378.2H294.5ZM294.5 378.2v-2.5M294.5 268.7v2.5M368.4 378.2v-2.5M368.4 268.7v2.5M442.2 378.2v-2.5M442.2 268.7v2.5M294.5 378.2h2.5M442.2 378.2h-2.5M294.5 323.4h2.5M442.2 323.4h-2.5M294.5 268.7h2.5M442.2 268.7h-2.5" fill="none" stroke="#555" stroke-width="1.00"/>
<path d="M523.6 268.7H670.5V378.2H523.6ZM523.6 378.2v-2.5M523.6 268.7v2.5M597.0 378.2v-2.5M597.0 268.7v2.5M670.5 378.2v-2.5M670.5 268.7v2.5M523.6 378.2h2.5M670.5 378.2h-2.5M523.6 323.4h2.5M670.5 323.4h-2.5M523.6 268.7h2.5M670.5 268.7h-2.5" fill="none" stroke="#555" stroke-width="1.00"/>
<path d="M67.3 460.3H670.5V571.0H67.3ZM67.3 571.0v-6.0M67.3 460.3v6.0M142.7 571.0v-6.0M142.7 460.3v6.0M218.1 571.0v-6.0M218.1 460.3v6.0M293.5 571.0v-6.0M293.5 460.3v6.0M368.9 571.0v-6.0M368.9 460.3v6.0M444.3 571.0v-6.0M444.3 460.3v6.0M519.7 571.0v-6.0M519.7 460.3v6.0M595.1 571.0v-6.0M595.1 460.3v6.0M670.5 571.0v-6.0M670.5 460.3v6.0M67.3 571.0h6.0M670.5 571.0h-6.0M67.3 515.6h6.0M670.5 515.6h-6.0M67.3 460.3h6.0M670.5 460.3h-6.0" fill="none" stroke="#555" stroke-width="1.00"/>
<path d="M67.0 653.2H214.6V763.0H67.0ZM67.0 763.0v-2.5M67.0 653.2v2.5M140.8 763.0v-2.5M140.8 653.2v2.5M214.6 763.0v-2.5M214.6 653.2v2.5M67.0 763.0h2.5M214.6 763.0h-2.5M67.0 708.1h2.5M214.6 708.1h-2.5M67.0 653.2h2.5M214.6 653.2h-2.5" fill="none" stroke="#555" stroke-width="1.00"/>
<path d="M294.5 653.2H442.2V763.0H294.5ZM294.5 763.0v-2.5M294.5 653.2v2.5M368.4 763.0v-2.5M368.4 653.2v2.5M442.2 763.0v-2.5M442.2 653.2v2.5M294.5 763.0h2.5M442.2 763.0h-2.5M294.5 708.1h2.5M442.2 708.1h-2.5M294.5 653.2h2.5M442.2 653.2h-2.5" fill="none" stroke="#555" stroke-width="1.00"/>
<path d="M523.6 653.2H670.8V763.0H523.6ZM523.6 763.0v-2.5M523.6 653.2v2.5M597.2 763.0v-2.5M597.2 653.2v2.5M670.8 763.0v-2.5M670.8 653.2v2.5M523.6 763.0h2.5M670.8 763.0h-2.5M523.6 708.1h2.5M670.8 708.1h-2.5M523.6 653.2h2.5M670.8 653.2h-2.5" fill="none" stroke="#555" stroke-width="1.00"/>
<text x="70.3" y="208.7" font-size="17.5" text-anchor="middle" font-weight="normal" fill="#333">0</text>
<text x="145.7" y="208.7" font-size="17.5" text-anchor="middle" font-weight="normal" fill="#333">2</text>
<text x="221.1" y="208.7" font-size="17.5" text-anchor="middle" font-weight="normal" fill="#333">4</text>
<text x="296.5" y="208.7" font-size="17.5" text-anchor="middle" font-weight="normal" fill="#333">6</text>
<text x="371.9" y="208.7" font-size="17.5" text-anchor="middle" font-weight="normal" fill="#333">8</text>
<text x="447.3" y="208.7" font-size="17.5" text-anchor="middle" font-weight="normal" fill="#333">10</text>
<text x="522.7" y="208.7" font-size="17.5" text-anchor="middle" font-weight="normal" fill="#333">12</text>
<text x="598.1" y="208.7" font-size="17.5" text-anchor="middle" font-weight="normal" fill="#333">14</text>
<text x="673.5" y="208.7" font-size="17.5" text-anchor="middle" font-weight="normal" fill="#333">16</text>
<text x="58.5" y="192.9" font-size="17.5" text-anchor="end" font-weight="normal" fill="#333">0</text>
<text x="60.3" y="156.1" font-size="17.5" text-anchor="end" font-weight="normal" fill="#333">0.05</text>
<text x="60.3" y="119.4" font-size="17.5" text-anchor="end" font-weight="normal" fill="#333">0.1</text>
<text x="60.3" y="82.6" font-size="17.5" text-anchor="end" font-weight="normal" fill="#333">0.15</text>
<text x="375.9" y="224.9" font-size="15.5" text-anchor="middle" font-weight="normal" fill="#333">Time (s)</text>
<text x="0" y="0" font-size="15.5" text-anchor="middle" fill="#333" transform="translate(11.7 126.4) rotate(-90)">TTP Contour Error (mm)</text>
<text x="70.0" y="401.2" font-size="17.5" text-anchor="middle" font-weight="normal" fill="#333">3.5</text>
<text x="143.8" y="401.2" font-size="17.5" text-anchor="middle" font-weight="normal" fill="#333">4</text>
<text x="217.6" y="401.2" font-size="17.5" text-anchor="middle" font-weight="normal" fill="#333">4.5</text>
<text x="58.2" y="385.4" font-size="17.5" text-anchor="end" font-weight="normal" fill="#333">0</text>
<text x="60.0" y="330.6" font-size="17.5" text-anchor="end" font-weight="normal" fill="#333">0.02</text>
<text x="60.0" y="275.9" font-size="17.5" text-anchor="end" font-weight="normal" fill="#333">0.04</text>
<text x="145.0" y="421.5" font-size="15.5" text-anchor="middle" font-weight="normal" fill="#333">Time (s)</text>
<text x="0" y="0" font-size="15.5" text-anchor="middle" fill="#333" transform="translate(11.8 325.6) rotate(-90)">TTP Contour Error (mm)</text>
<text x="297.5" y="401.2" font-size="17.5" text-anchor="middle" font-weight="normal" fill="#333">6.5</text>
<text x="371.4" y="401.2" font-size="17.5" text-anchor="middle" font-weight="normal" fill="#333">7</text>
<text x="445.2" y="401.2" font-size="17.5" text-anchor="middle" font-weight="normal" fill="#333">7.5</text>
<text x="285.7" y="385.4" font-size="17.5" text-anchor="end" font-weight="normal" fill="#333">0</text>
<text x="287.5" y="330.6" font-size="17.5" text-anchor="end" font-weight="normal" fill="#333">0.02</text>
<text x="287.5" y="275.9" font-size="17.5" text-anchor="end" font-weight="normal" fill="#333">0.04</text>
<text x="381.4" y="421.5" font-size="15.5" text-anchor="middle" font-weight="normal" fill="#333">Time (s)</text>
<text x="0" y="0" font-size="15.5" text-anchor="middle" fill="#333" transform="translate(249.3 325.6) rotate(-90)">TTP Contour Error (mm)</text>
<text x="526.6" y="401.2" font-size="17.5" text-anchor="middle" font-weight="normal" fill="#333">8.5</text>
<text x="600.0" y="401.2" font-size="17.5" text-anchor="middle" font-weight="normal" fill="#333">9</text>
<text x="673.5" y="401.2" font-size="17.5" text-anchor="middle" font-weight="normal" fill="#333">9.5</text>
<text x="514.8" y="385.4" font-size="17.5" text-anchor="end" font-weight="normal" fill="#333">0</text>
<text x="516.6" y="330.6" font-size="17.5" text-anchor="end" font-weight="normal" fill="#333">0.02</text>
<text x="516.6" y="275.9" font-size="17.5" text-anchor="end" font-weight="normal" fill="#333">0.04</text>
<text x="602.8" y="421.5" font-size="15.5" text-anchor="middle" font-weight="normal" fill="#333">Time (s)</text>
<text x="0" y="0" font-size="15.5" text-anchor="middle" fill="#333" transform="translate(478.2 325.6) rotate(-90)">TTP Contour Error (mm)</text>
<text x="70.3" y="594.0" font-size="17.5" text-anchor="middle" font-weight="normal" fill="#333">0</text>
<text x="145.7" y="594.0" font-size="17.5" text-anchor="middle" font-weight="normal" fill="#333">2</text>
<text x="221.1" y="594.0" font-size="17.5" text-anchor="middle" font-weight="normal" fill="#333">4</text>
<text x="296.5" y="594.0" font-size="17.5" text-anchor="middle" font-weight="normal" fill="#333">6</text>
<text x="371.9" y="594.0" font-size="17.5" text-anchor="middle" font-weight="normal" fill="#333">8</text>
<text x="447.3" y="594.0" font-size="17.5" text-anchor="middle" font-weight="normal" fill="#333">10</text>
<text x="522.7" y="594.0" font-size="17.5" text-anchor="middle" font-weight="normal" fill="#333">12</text>
<text x="598.1" y="594.0" font-size="17.5" text-anchor="middle" font-weight="normal" fill="#333">14</text>
<text x="673.5" y="594.0" font-size="17.5" text-anchor="middle" font-weight="normal" fill="#333">16</text>
<text x="58.5" y="578.2" font-size="17.5" text-anchor="end" font-weight="normal" fill="#333">0</text>
<text x="58.5" y="522.9" font-size="17.5" text-anchor="end" font-weight="normal" fill="#333">1</text>
<text x="58.5" y="467.5" font-size="17.5" text-anchor="end" font-weight="normal" fill="#333">2</text>
<text x="375.9" y="617.8" font-size="15.5" text-anchor="middle" font-weight="normal" fill="#333">Time (s)</text>
<text x="0" y="0" font-size="15.5" text-anchor="middle" fill="#333" transform="translate(11.7 514.5) rotate(-90)">TORI Contour Error (rad)</text>
<text x="67.5" y="458.3" font-size="17.5" text-anchor="start" font-weight="normal" fill="#333">×<tspan dx="1.5">10</tspan><tspan font-size="12" dy="-7">-3</tspan></text>
<text x="70.0" y="786.0" font-size="17.5" text-anchor="middle" font-weight="normal" fill="#333">3.5</text>
<text x="143.8" y="786.0" font-size="17.5" text-anchor="middle" font-weight="normal" fill="#333">4</text>
<text x="217.6" y="786.0" font-size="17.5" text-anchor="middle" font-weight="normal" fill="#333">4.5</text>
<text x="58.2" y="770.2" font-size="17.5" text-anchor="end" font-weight="normal" fill="#333">0</text>
<text x="58.2" y="715.3" font-size="17.5" text-anchor="end" font-weight="normal" fill="#333">2</text>
<text x="58.2" y="660.4" font-size="17.5" text-anchor="end" font-weight="normal" fill="#333">4</text>
<text x="144.5" y="809.5" font-size="15.5" text-anchor="middle" font-weight="normal" fill="#333">Time (s)</text>
<text x="0" y="0" font-size="15.5" text-anchor="middle" fill="#333" transform="translate(11.7 711.7) rotate(-90)">TORI Contour Error (rad)</text>
<text x="67.2" y="650.8" font-size="17.5" text-anchor="start" font-weight="normal" fill="#333">×<tspan dx="2">10</tspan><tspan font-size="12.5" dy="-8">-4</tspan></text>
<text x="297.5" y="786.0" font-size="17.5" text-anchor="middle" font-weight="normal" fill="#333">6</text>
<text x="371.4" y="786.0" font-size="17.5" text-anchor="middle" font-weight="normal" fill="#333">6.5</text>
<text x="445.2" y="786.0" font-size="17.5" text-anchor="middle" font-weight="normal" fill="#333">7</text>
<text x="285.7" y="770.2" font-size="17.5" text-anchor="end" font-weight="normal" fill="#333">0</text>
<text x="285.7" y="715.3" font-size="17.5" text-anchor="end" font-weight="normal" fill="#333">2</text>
<text x="285.7" y="660.4" font-size="17.5" text-anchor="end" font-weight="normal" fill="#333">4</text>
<text x="381.0" y="809.5" font-size="15.5" text-anchor="middle" font-weight="normal" fill="#333">Time (s)</text>
<text x="0" y="0" font-size="15.5" text-anchor="middle" fill="#333" transform="translate(249.3 711.7) rotate(-90)">TORI Contour Error (rad)</text>
<text x="294.7" y="650.8" font-size="17.5" text-anchor="start" font-weight="normal" fill="#333">×<tspan dx="2">10</tspan><tspan font-size="12.5" dy="-8">-4</tspan></text>
<text x="526.6" y="786.0" font-size="17.5" text-anchor="middle" font-weight="normal" fill="#333">8.5</text>
<text x="600.2" y="786.0" font-size="17.5" text-anchor="middle" font-weight="normal" fill="#333">9</text>
<text x="673.8" y="786.0" font-size="17.5" text-anchor="middle" font-weight="normal" fill="#333">9.5</text>
<text x="514.8" y="770.2" font-size="17.5" text-anchor="end" font-weight="normal" fill="#333">0</text>
<text x="514.8" y="715.3" font-size="17.5" text-anchor="end" font-weight="normal" fill="#333">2</text>
<text x="514.8" y="660.4" font-size="17.5" text-anchor="end" font-weight="normal" fill="#333">4</text>
<text x="602.7" y="809.5" font-size="15.5" text-anchor="middle" font-weight="normal" fill="#333">Time (s)</text>
<text x="0" y="0" font-size="15.5" text-anchor="middle" fill="#333" transform="translate(478.2 711.7) rotate(-90)">TORI Contour Error (rad)</text>
<text x="523.8" y="650.8" font-size="17.5" text-anchor="start" font-weight="normal" fill="#333">×<tspan dx="2">10</tspan><tspan font-size="12.5" dy="-8">-4</tspan></text>
<text x="46.0" y="63.0" font-size="20.0" text-anchor="middle" font-weight="bold" fill="#000">(a)</text>
<text x="45.5" y="249.6" font-size="20.0" text-anchor="middle" font-weight="bold" fill="#000">(b)</text>
<text x="272.1" y="249.6" font-size="20.0" text-anchor="middle" font-weight="bold" fill="#000">(c)</text>
<text x="502.8" y="249.6" font-size="20.0" text-anchor="middle" font-weight="bold" fill="#000">(d)</text>
<text x="45.8" y="446.4" font-size="20.0" text-anchor="middle" font-weight="bold" fill="#000">(e)</text>
<text x="45.5" y="631.5" font-size="20.0" text-anchor="middle" font-weight="bold" fill="#000">(f)</text>
<text x="272.3" y="631.5" font-size="20.0" text-anchor="middle" font-weight="bold" fill="#000">(g)</text>
<text x="502.8" y="631.5" font-size="20.0" text-anchor="middle" font-weight="bold" fill="#000">(h)</text>
<circle cx="211.3" cy="165.7" r="14.6" fill="none" stroke="#000" stroke-width="1.8"/>
<circle cx="327.3" cy="165.8" r="14.6" fill="none" stroke="#000" stroke-width="1.8"/>
<circle cx="400.1" cy="165.8" r="14.6" fill="none" stroke="#000" stroke-width="1.8"/>
<circle cx="213.4" cy="551.8" r="14.6" fill="none" stroke="#000" stroke-width="1.8"/>
<circle cx="296.8" cy="556.6" r="14.6" fill="none" stroke="#000" stroke-width="1.8"/>
<circle cx="403.2" cy="556.5" r="14.6" fill="none" stroke="#000" stroke-width="1.8"/>
<circle cx="444.2" cy="182.9" r="8.1" fill="none" stroke="#000" stroke-width="1.8"/>
<text x="203.0" y="145.6" font-size="20.0" text-anchor="middle" font-weight="bold" fill="#000">(b)</text>
<text x="319.7" y="145.8" font-size="20.0" text-anchor="middle" font-weight="bold" fill="#000">(c)</text>
<text x="377.0" y="152.3" font-size="20.0" text-anchor="middle" font-weight="bold" fill="#000">(d)</text>
<text x="198.7" y="534.0" font-size="20.0" text-anchor="middle" font-weight="bold" fill="#000">(f)</text>
<text x="297.0" y="535.7" font-size="20.0" text-anchor="middle" font-weight="bold" fill="#000">(g)</text>
<text x="414.7" y="539.6" font-size="20.0" text-anchor="middle" font-weight="bold" fill="#000">(h)</text>
<line x1="447.8" y1="175" x2="467.6" y2="111.5" stroke="#000" stroke-width="1.8"/>
<path d="M470.5 101.8 L473 115 L461.2 111.5 Z" fill="#000"/>
<rect x="67" y="3" width="265.6" height="58" fill="#fff" stroke="#444" stroke-width="1"/>
<line x1="72.4" y1="17.6" x2="98.4" y2="17.6" stroke="#0072BD" stroke-width="1.8"/>
<text x="102.0" y="23.6" font-size="17.8" text-anchor="start" font-weight="normal" fill="#0072BD">Case 1</text>
<line x1="156.0" y1="17.6" x2="182.0" y2="17.6" stroke="#D95319" stroke-width="1.8"/>
<text x="187.0" y="23.6" font-size="17.8" text-anchor="start" font-weight="normal" fill="#D95319">Case 2</text>
<line x1="245.0" y1="17.6" x2="271.0" y2="17.6" stroke="#EDB120" stroke-width="1.8"/>
<text x="274.0" y="23.6" font-size="17.8" text-anchor="start" font-weight="normal" fill="#EDB120">Case 3</text>
<line x1="72.4" y1="44.4" x2="98.4" y2="44.4" stroke="#7E2F8E" stroke-width="1.8"/>
<text x="102.0" y="50.4" font-size="17.8" text-anchor="start" font-weight="normal" fill="#7E2F8E">Case 4</text>
<line x1="156.0" y1="44.4" x2="182.0" y2="44.4" stroke="#77AC30" stroke-width="1.8"/>
<text x="187.0" y="50.4" font-size="17.8" text-anchor="start" font-weight="normal" fill="#77AC30">Case 5</text>
<line x1="245.0" y1="44.4" x2="271.0" y2="44.4" stroke="#4DBEEE" stroke-width="1.8"/>
<text x="274.0" y="50.4" font-size="17.8" text-anchor="start" font-weight="normal" fill="#4DBEEE">Case 6</text>
<rect x="382" y="0.5" width="281.5" height="96.5" fill="#fff" stroke="none"/>
<path d="M382.5 74.9 L383.9 70.3 L385.3 75.3 L386.6 70.6 L388.2 75.4 L389.8 71.1 L391.2 75.5 L392.5 71.6 L393.9 75.8 L395.4 69.9 L397.1 76.3 L398.5 71.4 L400.2 76.9 L401.8 72.9 L403.2 76.2 L404.9 67.9 L406.6 69.6 L408.0 59.3 L409.5 58.6 L410.7 44.9 L412.1 55.5 L413.4 67.3 L415.1 76.4 L416.3 70.3 L417.6 76.8 L419.0 67.7 L420.1 76.5 L421.4 67.9 L422.7 76.1 L424.2 67.6 L425.4 76.0 L427.1 68.8 L428.3 76.4 L430.0 68.6 L431.3 75.5 L432.9 67.3 L434.5 75.9 L435.8 68.7 L437.3 75.9 L438.8 67.8 L440.2 75.8 L441.9 68.4 L443.6 75.7 L445.0 68.3 L446.5 75.4 L448.0 65.6 L449.8 75.4 L451.2 68.2 L452.4 75.4 L453.7 66.3 L455.1 74.7 L456.6 67.8 L457.8 75.3 L459.2 67.1 L460.8 74.5 L462.5 67.3 L464.0 74.8 L465.3 66.5 L466.9 74.4 L468.3 67.4 L469.6 74.7 L471.3 65.6 L472.9 73.7 L474.6 65.0 L476.1 74.2 L477.4 64.5 L478.9 73.6 L480.1 64.2 L481.4 73.3 L482.8 65.0 L484.2 73.2 L485.9 66.0 L487.6 73.5 L489.0 65.0 L490.6 73.3 L491.9 62.6 L493.5 72.4 L495.2 64.1 L496.4 72.9 L498.0 63.3 L499.5 72.1 L501.0 64.4 L502.5 71.6 L503.7 63.1 L505.1 71.0 L506.5 63.0 L507.7 71.0 L508.9 62.1 L510.2 70.6 L511.8 61.2 L513.0 70.0 L514.6 61.9 L515.8 69.8 L517.1 62.1 L518.3 69.6 L520.0 62.6 L521.1 69.0 L522.6 61.1 L524.2 69.1 L525.7 60.2 L527.4 68.9 L528.6 60.2 L530.3 68.1 L531.7 58.7 L533.0 67.9 L534.2 60.5 L535.8 67.1 L537.4 57.3 L539.0 66.8 L540.4 58.4 L541.7 66.6 L543.4 59.5 L544.9 66.2 L546.6 58.0 L548.0 65.2 L549.2 58.2 L550.9 65.3 L552.7 56.7 L553.8 64.7 L555.5 56.7 L557.2 64.1 L558.5 56.9 L559.9 64.1 L561.5 55.6 L563.2 63.9 L564.4 56.2 L566.0 63.6 L567.2 56.7 L568.5 63.2 L570.1 57.5 L571.7 63.6 L573.3 55.0 L574.9 63.3 L576.4 55.1 L577.5 63.3 L579.3 52.2 L580.7 55.4 L582.1 41.2 L583.6 50.9 L585.3 38.8 L587.0 47.2 L588.7 34.6 L590.3 45.9 L591.8 38.2 L593.1 47.6 L594.5 38.0 L596.0 48.8 L597.2 39.5 L598.7 49.4 L600.0 38.3 L601.2 49.2 L602.4 39.7 L603.9 50.3 L605.4 39.4 L606.9 49.5 L608.4 38.7 L609.9 50.0 L611.5 41.7 L612.8 50.2 L614.2 40.9 L615.9 52.2 L617.3 42.3 L618.6 54.4 L620.2 46.2 L621.7 55.7 L623.3 48.0 L624.7 55.9 L626.1 47.2 L627.6 56.6 L629.0 48.0 L630.5 57.8 L631.8 46.5 L632.9 58.6 L634.5 47.3 L635.7 59.0 L637.1 51.3 L638.6 60.1 L640.0 48.7 L641.2 60.9 L642.6 52.3 L643.8 62.1 L645.4 52.7 L646.8 63.3 L648.5 52.3 L649.7 63.8 L651.1 56.0 L652.6 65.0 L653.7 55.3 L655.0 66.5 L656.4 57.0 L658.1 67.5 L659.4 59.9 L660.8 68.2 L662.5 60.0" fill="none" stroke="#D95319" stroke-width="1.20" stroke-linejoin="miter" stroke-miterlimit="3" clip-path="url(#cin)"/>
<path d="M382.5 75.2 L383.9 70.4 L385.7 75.8 L387.3 70.1 L388.5 76.1 L389.9 70.4 L391.2 76.0 L392.8 71.6 L394.0 76.2 L395.4 70.8 L396.8 76.3 L398.0 71.2 L399.3 77.2 L400.8 71.4 L402.2 77.9 L403.8 69.0 L405.3 73.3 L406.6 62.7 L408.4 64.7 L409.6 52.4 L410.9 49.7 L412.6 55.1 L414.0 76.7 L415.6 68.4 L417.3 76.5 L419.0 67.5 L420.5 76.7 L422.1 68.4 L423.8 76.0 L425.2 68.5 L426.7 76.6 L427.9 68.2 L429.3 76.1 L430.8 67.1 L432.3 76.1 L433.7 65.9 L435.3 76.1 L436.5 67.8 L438.1 75.6 L439.5 67.5 L440.7 76.1 L442.4 67.9 L443.7 75.5 L445.2 68.0 L446.8 76.0 L448.0 66.1 L449.6 75.7 L451.2 67.4 L452.4 75.9 L453.7 65.0 L455.3 75.3 L456.7 67.1 L458.0 75.6 L459.2 67.3 L460.9 75.0 L462.4 65.5 L464.0 75.4 L465.6 66.5 L467.0 75.4 L468.7 65.8 L470.0 74.6 L471.6 66.3 L472.8 74.2 L474.1 63.6 L475.3 74.1 L476.9 63.4 L478.7 74.7 L480.4 63.3 L482.1 74.1 L483.7 66.1 L485.0 74.4 L486.5 64.2 L488.0 73.7 L489.2 62.6 L490.5 74.1 L492.0 63.6 L493.7 73.2 L495.3 64.5 L496.9 72.9 L498.6 63.2 L500.3 73.3 L501.5 63.3 L503.3 72.4 L504.5 63.5 L505.9 72.1 L507.4 61.4 L508.6 71.4 L509.9 60.1 L511.2 71.9 L512.8 62.3 L514.4 71.6 L516.1 59.5 L517.5 70.4 L519.2 63.0 L520.5 70.3 L521.9 60.7 L523.1 69.9 L524.6 61.7 L526.0 70.0 L527.4 59.0 L529.1 68.9 L530.3 58.1 L531.7 69.1 L532.9 58.2 L534.4 68.8 L536.0 58.6 L537.2 68.8 L538.8 58.4 L540.5 68.4 L541.8 57.6 L543.2 68.0 L544.8 58.0 L546.3 67.0 L547.7 59.3 L548.9 66.7 L550.5 58.8 L551.8 66.8 L553.4 58.5 L555.1 66.6 L556.6 59.1 L558.0 65.8 L559.5 56.2 L560.9 65.5 L562.4 56.4 L563.5 65.9 L565.2 55.7 L566.5 64.9 L568.0 57.3 L569.7 64.8 L571.3 55.4 L572.8 64.9 L574.1 56.2 L575.8 64.9 L577.5 57.8 L578.8 62.5 L580.4 48.2 L582.1 56.1 L583.9 41.5 L585.5 53.5 L587.1 39.6 L588.5 50.8 L589.7 40.6 L591.3 51.0 L592.6 41.4 L593.9 52.0 L595.4 40.4 L596.9 53.1 L598.1 39.6 L599.3 53.0 L601.0 44.0 L602.3 53.6 L604.0 40.0 L605.7 53.6 L607.3 41.9 L608.8 53.7 L610.2 41.7 L611.4 53.5 L612.9 41.8 L614.3 54.1 L615.6 43.8 L617.2 56.9 L618.6 45.8 L620.2 58.6 L621.8 47.7 L623.2 59.9 L624.5 46.9 L626.1 60.6 L627.5 50.7 L628.8 61.1 L630.3 48.3 L631.9 61.3 L633.1 50.3 L634.4 61.6 L635.9 50.6 L637.2 63.2 L638.7 54.0 L640.2 63.1 L641.7 55.4 L643.0 64.4 L644.3 53.3 L646.0 66.0 L647.6 55.0 L649.1 67.7 L650.8 57.0 L652.2 68.8 L653.6 59.5 L655.2 69.3 L656.6 60.2 L658.0 70.6 L659.6 60.7 L660.8 70.7 L662.1 60.4" fill="none" stroke="#EDB120" stroke-width="1.20" stroke-linejoin="miter" stroke-miterlimit="3" clip-path="url(#cin)"/>
<path d="M382.5 75.9 L384.2 71.4 L385.5 75.8 L387.1 71.2 L388.4 76.5 L389.6 71.4 L390.9 76.7 L392.4 70.3 L394.1 76.5 L395.5 71.5 L397.1 76.6 L398.7 71.4 L400.2 77.8 L401.9 72.9 L403.3 77.4 L404.8 69.1 L406.1 72.4 L407.7 60.6 L409.2 61.5 L410.4 45.7 L412.0 56.2 L413.5 69.0 L415.0 77.2 L416.4 66.3 L417.7 76.5 L419.1 69.1 L420.6 76.7 L421.8 68.6 L423.4 76.3 L425.0 67.8 L426.2 76.9 L427.8 68.3 L429.3 76.2 L430.9 69.0 L432.3 76.4 L433.9 68.5 L435.1 76.2 L436.6 67.0 L437.8 75.9 L439.3 66.7 L441.0 75.6 L442.6 66.3 L444.0 75.6 L445.4 67.2 L446.6 76.3 L447.8 68.2 L449.5 76.4 L451.0 66.2 L452.6 75.4 L453.9 66.1 L455.2 76.2 L456.7 67.0 L458.2 76.1 L459.7 64.2 L461.3 75.7 L463.0 64.0 L464.3 75.1 L465.6 64.5 L467.2 75.4 L468.9 65.8 L470.2 75.0 L471.8 65.1 L473.5 74.9 L475.2 63.8 L476.6 75.5 L478.2 62.8 L479.9 75.0 L481.3 65.2 L483.0 74.5 L484.7 64.9 L486.0 75.0 L487.6 65.3 L489.0 74.1 L490.4 62.9 L491.9 74.6 L493.7 64.1 L495.0 74.5 L496.5 61.9 L497.7 73.4 L499.1 63.1 L500.5 74.0 L502.1 62.5 L503.8 73.8 L505.5 63.6 L506.9 72.4 L508.1 60.6 L509.3 72.9 L510.5 60.5 L511.7 72.6 L513.3 62.2 L514.8 72.7 L516.4 59.9 L517.9 72.2 L519.6 61.2 L521.1 71.7 L522.4 60.2 L523.8 71.5 L525.3 59.4 L526.7 71.2 L528.0 60.0 L529.3 70.2 L530.5 59.8 L531.8 70.2 L533.3 59.0 L534.5 70.0 L536.1 61.2 L537.3 70.3 L538.7 58.4 L539.9 69.5 L541.4 61.2 L543.1 69.2 L544.7 58.7 L546.3 69.3 L547.9 57.2 L549.1 68.1 L550.6 60.1 L552.0 68.3 L553.6 60.4 L555.3 67.8 L557.1 58.8 L558.6 67.5 L560.1 58.7 L561.6 67.0 L563.1 56.8 L564.6 67.4 L566.0 59.3 L567.6 66.5 L568.9 56.9 L570.3 66.7 L571.8 57.0 L573.2 66.7 L574.5 56.6 L575.7 66.0 L577.2 57.7 L578.8 65.7 L580.2 53.2 L581.4 60.6 L583.0 46.5 L584.7 58.3 L586.3 41.7 L587.5 54.8 L588.9 42.8 L590.5 55.0 L592.1 41.8 L593.4 55.8 L594.8 44.0 L596.3 56.4 L597.5 43.0 L599.1 56.8 L600.5 43.7 L601.7 57.7 L603.1 43.6 L604.6 57.6 L606.2 43.0 L607.7 57.1 L609.0 43.2 L610.4 57.1 L612.1 45.2 L613.3 57.1 L614.9 43.9 L616.3 59.0 L617.5 45.8 L618.8 62.2 L620.2 49.5 L621.7 63.1 L623.2 49.2 L624.9 63.5 L626.6 52.8 L628.2 64.9 L629.6 51.7 L630.8 64.6 L632.1 50.8 L633.8 65.3 L635.4 54.8 L636.6 65.5 L638.2 54.8 L639.9 66.6 L641.2 53.9 L642.7 68.3 L644.0 57.2 L645.5 69.2 L646.9 57.3 L648.5 70.4 L649.8 59.8 L651.4 71.8 L652.7 62.6 L654.1 72.6 L655.6 59.8 L657.1 73.1 L658.6 60.3 L660.1 73.0 L661.6 64.2 L662.9 72.9" fill="none" stroke="#7E2F8E" stroke-width="1.20" stroke-linejoin="miter" stroke-miterlimit="3" clip-path="url(#cin)"/>
<path d="M382.5 76.2 L384.2 71.5 L385.4 76.6 L386.7 71.2 L388.1 76.5 L389.7 70.3 L391.2 76.9 L392.5 70.7 L394.2 77.0 L395.7 71.6 L397.4 76.8 L399.0 72.1 L400.5 78.5 L402.0 73.7 L403.2 77.4 L404.6 70.0 L405.8 73.3 L407.3 62.1 L408.5 65.3 L410.2 46.0 L411.6 54.3 L413.2 65.7 L414.6 77.6 L415.9 68.6 L417.2 76.6 L418.6 65.9 L420.3 76.6 L421.5 65.8 L423.2 76.1 L424.8 69.1 L426.5 76.6 L428.2 66.6 L429.4 76.5 L431.1 67.4 L432.6 76.2 L434.1 67.4 L435.5 75.8 L437.1 66.2 L438.8 76.4 L440.2 68.2 L441.9 76.6 L443.6 66.9 L445.1 76.4 L446.4 67.2 L447.7 76.1 L449.1 64.6 L450.8 75.6 L452.1 66.1 L453.8 76.3 L455.2 64.5 L456.5 75.4 L458.1 67.0 L459.8 76.3 L461.2 66.2 L462.4 75.2 L464.1 63.7 L465.3 75.4 L466.9 65.7 L468.0 76.0 L469.5 65.9 L471.2 75.2 L472.9 63.9 L474.6 75.1 L476.1 63.3 L477.6 75.2 L479.1 62.2 L480.8 74.9 L482.2 62.7 L483.6 74.6 L485.0 65.0 L486.3 74.7 L487.7 65.4 L489.4 74.4 L491.1 62.5 L492.8 74.6 L494.5 63.2 L496.1 74.3 L497.3 60.8 L498.9 73.5 L500.4 61.9 L502.1 73.7 L503.4 62.5 L504.8 73.5 L506.2 64.4 L507.6 72.9 L509.4 62.8 L511.1 72.7 L512.5 64.1 L514.1 72.1 L515.7 60.8 L517.2 72.1 L518.8 60.3 L520.2 72.4 L521.4 60.1 L522.6 71.9 L524.2 59.2 L525.4 71.8 L527.0 60.6 L528.2 71.8 L529.4 60.1 L530.7 71.5 L531.9 60.3 L533.3 70.7 L534.7 61.6 L536.1 70.2 L537.5 60.2 L538.6 70.1 L540.2 60.1 L541.5 70.4 L542.8 58.7 L544.0 69.8 L545.6 58.6 L547.1 69.3 L548.8 57.4 L550.3 69.2 L552.0 59.1 L553.7 68.9 L555.1 60.2 L556.5 68.6 L557.9 59.0 L559.2 68.4 L560.7 57.2 L562.3 68.3 L564.0 59.9 L565.6 68.1 L567.1 59.9 L568.4 67.2 L570.0 58.9 L571.5 66.7 L573.0 57.8 L574.2 66.7 L575.5 59.3 L577.1 67.3 L578.7 55.4 L580.4 63.4 L581.8 49.3 L583.3 60.6 L584.6 45.1 L586.0 57.4 L587.6 45.3 L589.0 55.9 L590.4 44.4 L591.6 56.5 L593.1 46.2 L594.5 58.3 L596.0 42.8 L597.4 58.6 L599.0 46.3 L600.3 58.8 L601.6 43.9 L603.2 59.7 L604.8 43.4 L606.2 59.3 L607.9 46.4 L609.5 58.6 L611.0 46.9 L612.7 58.2 L614.5 47.3 L616.0 60.7 L617.4 48.2 L618.9 63.9 L620.2 49.7 L621.3 65.1 L622.7 50.9 L624.0 64.9 L625.3 51.2 L626.6 66.1 L628.1 53.6 L629.8 66.3 L631.2 52.2 L632.9 67.1 L634.2 56.4 L635.4 66.3 L636.9 55.8 L638.2 67.7 L639.7 55.7 L641.1 68.9 L642.3 55.3 L643.9 69.9 L645.5 59.6 L647.2 71.3 L648.4 61.2 L650.0 72.3 L651.4 60.0 L652.8 73.1 L654.2 60.6 L655.7 74.5 L656.8 64.0 L658.2 74.0 L659.5 64.0 L660.7 73.9 L662.5 62.2" fill="none" stroke="#77AC30" stroke-width="1.20" stroke-linejoin="miter" stroke-miterlimit="3" clip-path="url(#cin)"/>
<path d="M382.5 76.6 L384.0 71.5 L385.7 76.7 L387.1 69.9 L388.8 77.1 L390.4 70.6 L392.0 76.9 L393.6 70.5 L395.0 77.2 L396.2 70.7 L397.6 77.4 L399.0 70.3 L400.6 78.8 L401.8 72.9 L403.6 77.5 L404.8 69.1 L406.1 73.0 L407.6 62.8 L409.3 59.8 L410.7 44.0 L411.9 53.6 L413.3 68.0 L414.7 79.6 L415.9 64.1 L417.3 82.4 L418.9 59.4 L420.2 81.9 L421.4 59.6 L422.8 83.0 L424.4 58.2 L425.8 83.0 L427.4 64.4 L429.1 81.2 L430.9 62.9 L432.2 82.1 L433.3 59.0 L434.9 81.1 L436.5 60.8 L438.0 82.1 L439.6 56.5 L441.1 81.4 L442.7 61.2 L444.1 81.7 L445.6 62.7 L447.2 81.9 L448.8 62.1 L450.1 82.6 L451.5 60.1 L452.7 82.6 L454.2 63.1 L455.6 81.5 L456.8 62.2 L458.1 81.8 L459.3 55.7 L460.9 82.7 L462.5 60.3 L463.7 81.0 L465.1 55.1 L466.6 82.8 L468.2 62.2 L469.9 83.1 L471.2 63.0 L472.9 83.2 L474.2 60.2 L475.4 81.1 L477.0 62.3 L478.6 81.3 L480.3 54.3 L482.0 81.1 L483.5 62.3 L484.9 80.9 L486.5 53.1 L487.8 82.7 L489.4 54.2 L491.0 81.8 L492.3 61.4 L493.7 81.1 L494.9 61.1 L496.4 81.8 L497.7 54.8 L499.1 81.8 L500.8 55.8 L502.4 82.2 L503.8 50.8 L505.2 81.1 L506.5 57.3 L508.1 81.1 L509.4 54.4 L510.8 82.7 L512.1 54.8 L513.3 82.6 L514.9 54.8 L516.3 80.5 L517.8 50.5 L519.0 79.8 L520.2 51.2 L521.8 80.1 L523.1 58.9 L524.6 80.1 L525.8 57.2 L527.5 81.7 L528.8 53.1 L530.5 79.3 L532.0 53.5 L533.2 79.9 L534.6 55.2 L536.2 80.2 L537.5 54.0 L538.9 81.0 L540.5 57.1 L542.2 79.6 L543.8 49.9 L545.1 81.1 L546.7 56.5 L548.1 79.3 L549.4 57.6 L550.7 78.3 L552.2 49.8 L553.7 79.0 L555.3 56.8 L556.4 78.9 L558.0 48.3 L559.7 79.2 L561.4 55.5 L562.7 78.2 L564.4 49.2 L566.0 77.3 L567.6 50.7 L569.2 77.3 L570.4 55.0 L572.1 76.6 L573.8 57.0 L575.5 74.5 L577.2 59.0 L578.9 71.3 L580.4 56.7 L581.7 67.8 L583.0 51.5 L584.4 64.9 L585.7 52.5 L587.0 61.9 L588.3 46.7 L589.6 61.9 L591.4 49.1 L592.7 62.8 L594.0 49.2 L595.5 63.2 L596.9 51.8 L598.4 64.3 L599.7 53.0 L601.3 64.0 L602.6 51.4 L604.2 64.4 L605.6 50.9 L607.0 63.4 L608.2 51.9 L609.8 63.4 L611.1 52.4 L612.5 63.1 L614.0 50.8 L615.5 64.0 L616.9 56.0 L618.6 67.5 L620.1 55.2 L621.5 69.3 L622.8 57.7 L624.4 69.3 L625.6 56.0 L627.0 69.5 L628.4 56.2 L629.6 69.8 L631.1 58.9 L632.8 70.1 L634.1 57.4 L635.7 71.3 L637.0 62.0 L638.4 72.5 L639.9 62.3 L641.4 73.4 L642.7 60.8 L644.2 75.1 L645.6 66.1 L646.9 76.2 L648.4 66.5 L649.5 76.8 L650.9 68.2 L652.5 78.6 L654.0 68.2 L655.6 78.4 L657.0 65.1 L658.4 77.6 L659.9 67.7 L661.5 77.5 L662.7 65.3" fill="none" stroke="#4DBEEE" stroke-width="1.20" stroke-linejoin="miter" stroke-miterlimit="3" clip-path="url(#cin)"/>
<path d="M382 0.5H663.5V97.3H382ZM402.4 97v-2.5M402.4 0.5v2.5M430.5 97v-2.5M430.5 0.5v2.5M458.6 97v-2.5M458.6 0.5v2.5M486.7 97v-2.5M486.7 0.5v2.5M514.8 97v-2.5M514.8 0.5v2.5M542.9 97v-2.5M542.9 0.5v2.5M571.0 97v-2.5M571.0 0.5v2.5M599.1 97v-2.5M599.1 0.5v2.5M627.2 97v-2.5M627.2 0.5v2.5M655.3 97v-2.5M655.3 0.5v2.5M382 77.7h2.5M663.5 77.7h-2.5M382 58.6h2.5M663.5 58.6h-2.5M382 39.4h2.5M663.5 39.4h-2.5M382 20.3h2.5M663.5 20.3h-2.5" fill="none" stroke="#4a4a4a" stroke-width="1.2"/>
</svg></body></html>
